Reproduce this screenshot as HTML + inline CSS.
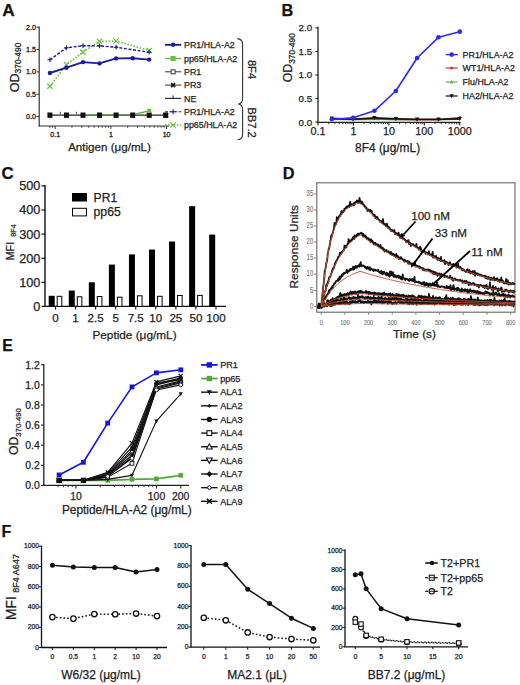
<!DOCTYPE html>
<html><head><meta charset="utf-8"><title>Figure</title>
<style>
html,body{margin:0;padding:0;background:#fff;}
body{width:520px;height:685px;overflow:hidden;font-family:"Liberation Sans",sans-serif;}
svg{display:block;}
svg text{font-family:"Liberation Sans",sans-serif;}
</style></head><body>
<svg width="520" height="685" viewBox="0 0 520 685" font-family="Liberation Sans, sans-serif">

<rect width="520" height="685" fill="#fff"/>
<text x="2.20" y="16.30" font-size="17.2" text-anchor="start" fill="#111" stroke="#111" stroke-width="0.25" font-weight="bold">A</text>
<line x1="39.20" y1="26.50" x2="39.20" y2="126.50" stroke="#333" stroke-width="1.2"/>
<line x1="38.70" y1="126.00" x2="169.00" y2="126.00" stroke="#333" stroke-width="1.2"/>
<line x1="36.40" y1="27.20" x2="39.20" y2="27.20" stroke="#333" stroke-width="1"/>
<text x="35.90" y="29.70" font-size="7.1" text-anchor="end" fill="#222" stroke="#222" stroke-width="0.3">2.0</text>
<line x1="36.40" y1="49.53" x2="39.20" y2="49.53" stroke="#333" stroke-width="1"/>
<text x="35.90" y="52.03" font-size="7.1" text-anchor="end" fill="#222" stroke="#222" stroke-width="0.3">1.5</text>
<line x1="36.40" y1="71.85" x2="39.20" y2="71.85" stroke="#333" stroke-width="1"/>
<text x="35.90" y="74.35" font-size="7.1" text-anchor="end" fill="#222" stroke="#222" stroke-width="0.3">1.0</text>
<line x1="36.40" y1="94.17" x2="39.20" y2="94.17" stroke="#333" stroke-width="1"/>
<text x="35.90" y="96.67" font-size="7.1" text-anchor="end" fill="#222" stroke="#222" stroke-width="0.3">0.5</text>
<line x1="36.40" y1="116.50" x2="39.20" y2="116.50" stroke="#333" stroke-width="1"/>
<text x="35.90" y="119.00" font-size="7.1" text-anchor="end" fill="#222" stroke="#222" stroke-width="0.3">0.0</text>
<line x1="49.80" y1="126.00" x2="49.80" y2="127.80" stroke="#333" stroke-width="0.9"/>
<line x1="52.65" y1="126.00" x2="52.65" y2="127.80" stroke="#333" stroke-width="0.9"/>
<line x1="71.97" y1="126.00" x2="71.97" y2="127.80" stroke="#333" stroke-width="0.9"/>
<line x1="81.78" y1="126.00" x2="81.78" y2="127.80" stroke="#333" stroke-width="0.9"/>
<line x1="88.73" y1="126.00" x2="88.73" y2="127.80" stroke="#333" stroke-width="0.9"/>
<line x1="94.13" y1="126.00" x2="94.13" y2="127.80" stroke="#333" stroke-width="0.9"/>
<line x1="98.54" y1="126.00" x2="98.54" y2="127.80" stroke="#333" stroke-width="0.9"/>
<line x1="102.27" y1="126.00" x2="102.27" y2="127.80" stroke="#333" stroke-width="0.9"/>
<line x1="105.50" y1="126.00" x2="105.50" y2="127.80" stroke="#333" stroke-width="0.9"/>
<line x1="108.35" y1="126.00" x2="108.35" y2="127.80" stroke="#333" stroke-width="0.9"/>
<line x1="127.67" y1="126.00" x2="127.67" y2="127.80" stroke="#333" stroke-width="0.9"/>
<line x1="137.48" y1="126.00" x2="137.48" y2="127.80" stroke="#333" stroke-width="0.9"/>
<line x1="144.43" y1="126.00" x2="144.43" y2="127.80" stroke="#333" stroke-width="0.9"/>
<line x1="149.83" y1="126.00" x2="149.83" y2="127.80" stroke="#333" stroke-width="0.9"/>
<line x1="154.24" y1="126.00" x2="154.24" y2="127.80" stroke="#333" stroke-width="0.9"/>
<line x1="157.97" y1="126.00" x2="157.97" y2="127.80" stroke="#333" stroke-width="0.9"/>
<line x1="161.20" y1="126.00" x2="161.20" y2="127.80" stroke="#333" stroke-width="0.9"/>
<line x1="164.05" y1="126.00" x2="164.05" y2="127.80" stroke="#333" stroke-width="0.9"/>
<line x1="55.20" y1="126.00" x2="55.20" y2="129.00" stroke="#333" stroke-width="1"/>
<text x="55.20" y="137.40" font-size="7.1" text-anchor="middle" fill="#222" stroke="#222" stroke-width="0.3">0.1</text>
<line x1="110.90" y1="126.00" x2="110.90" y2="129.00" stroke="#333" stroke-width="1"/>
<text x="110.90" y="137.40" font-size="7.1" text-anchor="middle" fill="#222" stroke="#222" stroke-width="0.3">1</text>
<line x1="166.60" y1="126.00" x2="166.60" y2="129.00" stroke="#333" stroke-width="1"/>
<text x="166.60" y="137.40" font-size="7.1" text-anchor="middle" fill="#222" stroke="#222" stroke-width="0.3">10</text>
<text x="109.50" y="151.20" font-size="11.6" text-anchor="middle" fill="#222" stroke="#222" stroke-width="0.25">Antigen (&#956;g/mL)</text>
<text transform="translate(18.7,92.3) rotate(-90)" font-size="12.6" fill="#222" stroke="#222" stroke-width="0.25">OD<tspan font-size="8.4" dy="2.6">370-490</tspan></text>
<line x1="49.90" y1="115.20" x2="165.75" y2="115.20" stroke="#222" stroke-width="1.3"/>
<polyline points="83.00,115.00 99.55,114.90 116.10,114.80 132.65,114.60 149.20,110.80" fill="none" stroke="#5aa835" stroke-width="1.2" stroke-linejoin="round"/>
<rect x="47.40" y="112.50" width="5.0" height="5.4" fill="#111"/>
<rect x="63.95" y="112.50" width="5.0" height="5.4" fill="#111"/>
<rect x="80.50" y="112.50" width="5.0" height="5.4" fill="#111"/>
<rect x="97.05" y="112.50" width="5.0" height="5.4" fill="#111"/>
<rect x="113.60" y="112.50" width="5.0" height="5.4" fill="#111"/>
<rect x="130.15" y="112.50" width="5.0" height="5.4" fill="#111"/>
<rect x="146.70" y="112.50" width="5.0" height="5.4" fill="#111"/>
<rect x="163.25" y="112.50" width="5.0" height="5.4" fill="#111"/>
<rect x="147.20" y="108.80" width="4.00" height="4.00" fill="#6cc040"/>
<path d="M163.55,113.00L167.95,117.40M163.55,117.40L167.95,113.00" stroke="#111" stroke-width="1.4"/>
<line x1="60.20" y1="111.80" x2="60.20" y2="114.00" stroke="#333" stroke-width="0.9"/>
<line x1="76.60" y1="111.80" x2="76.60" y2="114.00" stroke="#333" stroke-width="0.9"/>
<polyline points="49.90,86.30 66.45,64.70 83.00,52.10 99.55,41.40 116.10,41.00 149.20,50.50" fill="none" stroke="#6cc040" stroke-width="1.6" stroke-dasharray="1.6,1.6" stroke-linejoin="round"/>
<path d="M47.30,83.70L52.50,88.90M47.30,88.90L52.50,83.70" stroke="#6cc040" stroke-width="1.3"/>
<path d="M63.85,62.10L69.05,67.30M63.85,67.30L69.05,62.10" stroke="#6cc040" stroke-width="1.3"/>
<path d="M80.40,49.50L85.60,54.70M80.40,54.70L85.60,49.50" stroke="#6cc040" stroke-width="1.3"/>
<path d="M96.95,38.80L102.15,44.00M96.95,44.00L102.15,38.80" stroke="#6cc040" stroke-width="1.3"/>
<path d="M113.50,38.40L118.70,43.60M113.50,43.60L118.70,38.40" stroke="#6cc040" stroke-width="1.3"/>
<path d="M146.60,47.90L151.80,53.10M146.60,53.10L151.80,47.90" stroke="#6cc040" stroke-width="1.3"/>
<polyline points="49.90,73.00 66.45,67.70 83.00,62.10 99.55,63.40 116.10,58.40 132.65,58.30 149.20,59.60" fill="none" stroke="#1c1c9c" stroke-width="1.9" stroke-linejoin="round"/>
<circle cx="49.90" cy="73.00" r="2.2" fill="#1c1c9c"/>
<circle cx="66.45" cy="67.70" r="2.2" fill="#1c1c9c"/>
<circle cx="83.00" cy="62.10" r="2.2" fill="#1c1c9c"/>
<circle cx="99.55" cy="63.40" r="2.2" fill="#1c1c9c"/>
<circle cx="116.10" cy="58.40" r="2.2" fill="#1c1c9c"/>
<circle cx="132.65" cy="58.30" r="2.2" fill="#1c1c9c"/>
<circle cx="149.20" cy="59.60" r="2.2" fill="#1c1c9c"/>
<polyline points="49.90,59.80 66.45,47.80 83.00,45.70 99.55,45.90 116.10,47.20 149.20,52.20" fill="none" stroke="#1c1c9c" stroke-width="1.4" stroke-dasharray="3,1.6" stroke-linejoin="round"/>
<path d="M47.50,59.80L52.30,59.80M49.90,57.40L49.90,62.20" stroke="#1c1c9c" stroke-width="1.1"/>
<path d="M64.05,47.80L68.85,47.80M66.45,45.40L66.45,50.20" stroke="#1c1c9c" stroke-width="1.1"/>
<path d="M80.60,45.70L85.40,45.70M83.00,43.30L83.00,48.10" stroke="#1c1c9c" stroke-width="1.1"/>
<path d="M97.15,45.90L101.95,45.90M99.55,43.50L99.55,48.30" stroke="#1c1c9c" stroke-width="1.1"/>
<path d="M113.70,47.20L118.50,47.20M116.10,44.80L116.10,49.60" stroke="#1c1c9c" stroke-width="1.1"/>
<path d="M146.80,52.20L151.60,52.20M149.20,49.80L149.20,54.60" stroke="#1c1c9c" stroke-width="1.1"/>
<text x="184.00" y="48.00" font-size="8.9" text-anchor="start" fill="#222" stroke="#222" stroke-width="0.25">PR1/HLA-A2</text>
<text x="184.00" y="61.70" font-size="8.9" text-anchor="start" fill="#222" stroke="#222" stroke-width="0.25">pp65/HLA-A2</text>
<text x="184.00" y="75.00" font-size="8.9" text-anchor="start" fill="#222" stroke="#222" stroke-width="0.25">PR1</text>
<text x="184.00" y="88.30" font-size="8.9" text-anchor="start" fill="#222" stroke="#222" stroke-width="0.25">PR3</text>
<text x="184.00" y="101.60" font-size="8.9" text-anchor="start" fill="#222" stroke="#222" stroke-width="0.25">NE</text>
<text x="184.00" y="114.90" font-size="8.9" text-anchor="start" fill="#222" stroke="#222" stroke-width="0.25">PR1/HLA-A2</text>
<text x="184.00" y="128.20" font-size="8.9" text-anchor="start" fill="#222" stroke="#222" stroke-width="0.25">pp65/HLA-A2</text>
<line x1="165.00" y1="44.80" x2="181.20" y2="44.80" stroke="#1c1c9c" stroke-width="1.9"/>
<circle cx="173.10" cy="44.80" r="2.2" fill="#1c1c9c"/>
<line x1="165.00" y1="58.50" x2="181.20" y2="58.50" stroke="#6cc040" stroke-width="1.4"/>
<rect x="170.60" y="56.00" width="5.00" height="5.00" fill="#6cc040"/>
<line x1="165.00" y1="71.80" x2="181.20" y2="71.80" stroke="#333" stroke-width="1.0"/>
<rect x="171.10" y="69.80" width="4.00" height="4.00" fill="#fff" stroke="#222" stroke-width="0.9"/>
<line x1="165.00" y1="85.10" x2="181.20" y2="85.10" stroke="#333" stroke-width="1.0"/>
<path d="M171.10,83.10L175.10,87.10M171.10,87.10L175.10,83.10" stroke="#111" stroke-width="1.7"/>
<line x1="165.00" y1="98.40" x2="181.20" y2="98.40" stroke="#222" stroke-width="1.1"/>
<path d="M173.10,95.40L173.10,98.40" stroke="#222" stroke-width="1.0"/>
<line x1="165.00" y1="111.70" x2="181.20" y2="111.70" stroke="#1c1c9c" stroke-width="1.1" stroke-dasharray="3,1.5"/>
<path d="M170.60,111.70L175.60,111.70M173.10,109.20L173.10,114.20" stroke="#1c1c9c" stroke-width="1.1"/>
<line x1="165.00" y1="125.00" x2="181.20" y2="125.00" stroke="#6cc040" stroke-width="1.4" stroke-dasharray="1.5,1.5"/>
<path d="M170.50,122.40L175.70,127.60M170.50,127.60L175.70,122.40" stroke="#6cc040" stroke-width="1.3"/>
<path d="M237.3,38.6 Q242.6,38.8 242.6,44.5 L242.6,98.5 Q242.6,103.6 238.2,104.0 Q242.6,104.4 242.6,109.5 L242.6,134 Q242.6,139.4 237.6,139.6" fill="none" stroke="#333" stroke-width="1.1"/>
<text transform="translate(248.3,59.9) rotate(90)" font-size="11.2" fill="#222" stroke="#222" stroke-width="0.25">8F4</text>
<text transform="translate(248.0,107.3) rotate(90)" font-size="11.2" fill="#222" stroke="#222" stroke-width="0.25">BB7.2</text>
<text x="281.60" y="16.40" font-size="16.3" text-anchor="start" fill="#111" stroke="#111" stroke-width="0.25" font-weight="bold">B</text>
<line x1="318.00" y1="26.80" x2="318.00" y2="122.40" stroke="#222" stroke-width="1.3"/>
<line x1="317.40" y1="122.40" x2="460.60" y2="122.40" stroke="#222" stroke-width="1.3"/>
<line x1="315.40" y1="27.90" x2="318.00" y2="27.90" stroke="#222" stroke-width="1.1"/>
<text x="312.20" y="31.30" font-size="9.8" text-anchor="end" fill="#222" stroke="#222" stroke-width="0.25">2.0</text>
<line x1="315.40" y1="51.45" x2="318.00" y2="51.45" stroke="#222" stroke-width="1.1"/>
<text x="312.20" y="54.85" font-size="9.8" text-anchor="end" fill="#222" stroke="#222" stroke-width="0.25">1.5</text>
<line x1="315.40" y1="75.00" x2="318.00" y2="75.00" stroke="#222" stroke-width="1.1"/>
<text x="312.20" y="78.40" font-size="9.8" text-anchor="end" fill="#222" stroke="#222" stroke-width="0.25">1.0</text>
<line x1="315.40" y1="98.55" x2="318.00" y2="98.55" stroke="#222" stroke-width="1.1"/>
<text x="312.20" y="101.95" font-size="9.8" text-anchor="end" fill="#222" stroke="#222" stroke-width="0.25">0.5</text>
<line x1="315.40" y1="122.10" x2="318.00" y2="122.10" stroke="#222" stroke-width="1.1"/>
<text x="312.20" y="125.50" font-size="9.8" text-anchor="end" fill="#222" stroke="#222" stroke-width="0.25">0.0</text>
<line x1="328.67" y1="122.40" x2="328.67" y2="124.20" stroke="#222" stroke-width="0.9"/>
<line x1="334.91" y1="122.40" x2="334.91" y2="124.20" stroke="#222" stroke-width="0.9"/>
<line x1="339.34" y1="122.40" x2="339.34" y2="124.20" stroke="#222" stroke-width="0.9"/>
<line x1="342.78" y1="122.40" x2="342.78" y2="124.20" stroke="#222" stroke-width="0.9"/>
<line x1="345.59" y1="122.40" x2="345.59" y2="124.20" stroke="#222" stroke-width="0.9"/>
<line x1="347.96" y1="122.40" x2="347.96" y2="124.20" stroke="#222" stroke-width="0.9"/>
<line x1="350.01" y1="122.40" x2="350.01" y2="124.20" stroke="#222" stroke-width="0.9"/>
<line x1="351.83" y1="122.40" x2="351.83" y2="124.20" stroke="#222" stroke-width="0.9"/>
<line x1="364.12" y1="122.40" x2="364.12" y2="124.20" stroke="#222" stroke-width="0.9"/>
<line x1="370.36" y1="122.40" x2="370.36" y2="124.20" stroke="#222" stroke-width="0.9"/>
<line x1="374.79" y1="122.40" x2="374.79" y2="124.20" stroke="#222" stroke-width="0.9"/>
<line x1="378.23" y1="122.40" x2="378.23" y2="124.20" stroke="#222" stroke-width="0.9"/>
<line x1="381.04" y1="122.40" x2="381.04" y2="124.20" stroke="#222" stroke-width="0.9"/>
<line x1="383.41" y1="122.40" x2="383.41" y2="124.20" stroke="#222" stroke-width="0.9"/>
<line x1="385.46" y1="122.40" x2="385.46" y2="124.20" stroke="#222" stroke-width="0.9"/>
<line x1="387.28" y1="122.40" x2="387.28" y2="124.20" stroke="#222" stroke-width="0.9"/>
<line x1="399.57" y1="122.40" x2="399.57" y2="124.20" stroke="#222" stroke-width="0.9"/>
<line x1="405.81" y1="122.40" x2="405.81" y2="124.20" stroke="#222" stroke-width="0.9"/>
<line x1="410.24" y1="122.40" x2="410.24" y2="124.20" stroke="#222" stroke-width="0.9"/>
<line x1="413.68" y1="122.40" x2="413.68" y2="124.20" stroke="#222" stroke-width="0.9"/>
<line x1="416.49" y1="122.40" x2="416.49" y2="124.20" stroke="#222" stroke-width="0.9"/>
<line x1="418.86" y1="122.40" x2="418.86" y2="124.20" stroke="#222" stroke-width="0.9"/>
<line x1="420.91" y1="122.40" x2="420.91" y2="124.20" stroke="#222" stroke-width="0.9"/>
<line x1="422.73" y1="122.40" x2="422.73" y2="124.20" stroke="#222" stroke-width="0.9"/>
<line x1="435.02" y1="122.40" x2="435.02" y2="124.20" stroke="#222" stroke-width="0.9"/>
<line x1="441.26" y1="122.40" x2="441.26" y2="124.20" stroke="#222" stroke-width="0.9"/>
<line x1="445.69" y1="122.40" x2="445.69" y2="124.20" stroke="#222" stroke-width="0.9"/>
<line x1="449.13" y1="122.40" x2="449.13" y2="124.20" stroke="#222" stroke-width="0.9"/>
<line x1="451.94" y1="122.40" x2="451.94" y2="124.20" stroke="#222" stroke-width="0.9"/>
<line x1="454.31" y1="122.40" x2="454.31" y2="124.20" stroke="#222" stroke-width="0.9"/>
<line x1="456.36" y1="122.40" x2="456.36" y2="124.20" stroke="#222" stroke-width="0.9"/>
<line x1="458.18" y1="122.40" x2="458.18" y2="124.20" stroke="#222" stroke-width="0.9"/>
<line x1="318.00" y1="122.40" x2="318.00" y2="125.60" stroke="#222" stroke-width="1.1"/>
<text x="318.00" y="134.60" font-size="10.8" text-anchor="middle" fill="#222" stroke="#222" stroke-width="0.25">0.1</text>
<line x1="353.45" y1="122.40" x2="353.45" y2="125.60" stroke="#222" stroke-width="1.1"/>
<text x="353.45" y="134.60" font-size="10.8" text-anchor="middle" fill="#222" stroke="#222" stroke-width="0.25">1</text>
<line x1="388.90" y1="122.40" x2="388.90" y2="125.60" stroke="#222" stroke-width="1.1"/>
<text x="388.90" y="134.60" font-size="10.8" text-anchor="middle" fill="#222" stroke="#222" stroke-width="0.25">10</text>
<line x1="424.35" y1="122.40" x2="424.35" y2="125.60" stroke="#222" stroke-width="1.1"/>
<text x="424.35" y="134.60" font-size="10.8" text-anchor="middle" fill="#222" stroke="#222" stroke-width="0.25">100</text>
<line x1="459.80" y1="122.40" x2="459.80" y2="125.60" stroke="#222" stroke-width="1.1"/>
<text x="459.80" y="134.60" font-size="10.8" text-anchor="middle" fill="#222" stroke="#222" stroke-width="0.25">1000</text>
<text x="387.60" y="152.00" font-size="11.9" text-anchor="middle" fill="#222" stroke="#222" stroke-width="0.25">8F4 (&#956;g/mL)</text>
<text transform="translate(291.8,82.3) rotate(-90)" font-size="12.3" fill="#222" stroke="#222" stroke-width="0.25">OD<tspan font-size="8.4" dy="3.0">370-490</tspan></text>
<polyline points="331.74,119.27 353.08,119.74 374.43,119.27 395.77,119.74 417.11,119.74 438.46,119.74 459.80,119.27" fill="none" stroke="#5cb85c" stroke-width="1.3" stroke-linejoin="round"/>
<polyline points="331.74,118.80 353.08,119.27 374.43,118.80 395.77,119.27 417.11,119.74 438.46,119.74 459.80,117.39" fill="none" stroke="#d03030" stroke-width="1.3" stroke-linejoin="round"/>
<polyline points="331.74,118.33 353.08,119.27 374.43,117.86 395.77,118.80 417.11,119.27 438.46,119.27 459.80,118.80" fill="none" stroke="#111" stroke-width="1.7" stroke-linejoin="round"/>
<circle cx="331.74" cy="118.80" r="1.3" fill="#d03030"/>
<circle cx="353.08" cy="119.27" r="1.3" fill="#d03030"/>
<circle cx="374.43" cy="118.80" r="1.3" fill="#d03030"/>
<circle cx="395.77" cy="119.27" r="1.3" fill="#d03030"/>
<circle cx="417.11" cy="119.74" r="1.3" fill="#d03030"/>
<circle cx="438.46" cy="119.74" r="1.3" fill="#d03030"/>
<circle cx="459.80" cy="117.39" r="1.3" fill="#d03030"/>
<path d="M329.54,116.57L333.94,116.57L331.74,120.53Z" fill="#111"/>
<path d="M350.88,117.51L355.28,117.51L353.08,121.47Z" fill="#111"/>
<path d="M372.23,116.10L376.63,116.10L374.43,120.06Z" fill="#111"/>
<path d="M393.57,117.04L397.97,117.04L395.77,121.00Z" fill="#111"/>
<path d="M414.91,117.51L419.31,117.51L417.11,121.47Z" fill="#111"/>
<path d="M436.26,117.51L440.66,117.51L438.46,121.47Z" fill="#111"/>
<path d="M457.60,117.04L462.00,117.04L459.80,121.00Z" fill="#111"/>
<polyline points="331.74,119.27 353.08,117.86 374.43,110.80 395.77,91.01 417.11,58.04 438.46,37.32 459.80,31.67" fill="none" stroke="#2a2af0" stroke-width="1.6" stroke-linejoin="round"/>
<circle cx="331.74" cy="119.27" r="2.3" fill="#2a2af0"/>
<circle cx="353.08" cy="117.86" r="2.3" fill="#2a2af0"/>
<circle cx="374.43" cy="110.80" r="2.3" fill="#2a2af0"/>
<circle cx="395.77" cy="91.01" r="2.3" fill="#2a2af0"/>
<circle cx="417.11" cy="58.04" r="2.3" fill="#2a2af0"/>
<circle cx="438.46" cy="37.32" r="2.3" fill="#2a2af0"/>
<circle cx="459.80" cy="31.67" r="2.3" fill="#2a2af0"/>
<text x="462.60" y="57.80" font-size="8.9" text-anchor="start" fill="#222" stroke="#222" stroke-width="0.25">PR1/HLA-A2</text>
<text x="462.60" y="71.20" font-size="8.9" text-anchor="start" fill="#222" stroke="#222" stroke-width="0.25">WT1/HLA-A2</text>
<text x="462.60" y="85.20" font-size="8.9" text-anchor="start" fill="#222" stroke="#222" stroke-width="0.25">Flu/HLA-A2</text>
<text x="462.60" y="99.20" font-size="8.9" text-anchor="start" fill="#222" stroke="#222" stroke-width="0.25">HA2/HLA-A2</text>
<line x1="445.60" y1="54.60" x2="457.70" y2="54.60" stroke="#2a2af0" stroke-width="1.4"/>
<circle cx="451.65" cy="54.60" r="2.3" fill="#2a2af0"/>
<line x1="445.60" y1="68.00" x2="457.70" y2="68.00" stroke="#d03030" stroke-width="1.2"/>
<circle cx="451.65" cy="68.00" r="1.5" fill="#d03030"/>
<line x1="445.60" y1="82.00" x2="457.70" y2="82.00" stroke="#5cb85c" stroke-width="1.2"/>
<path d="M449.65,83.60L453.65,83.60L451.65,80.00Z" fill="#5cb85c"/>
<line x1="445.60" y1="96.00" x2="457.70" y2="96.00" stroke="#111" stroke-width="1.2"/>
<path d="M449.45,94.24L453.85,94.24L451.65,98.20Z" fill="#111"/>
<text x="1.50" y="179.40" font-size="16.8" text-anchor="start" fill="#111" stroke="#111" stroke-width="0.25" font-weight="bold">C</text>
<line x1="45.00" y1="185.00" x2="45.00" y2="306.40" stroke="#111" stroke-width="1.4"/>
<line x1="44.30" y1="306.40" x2="226.00" y2="306.40" stroke="#111" stroke-width="1.4"/>
<line x1="41.50" y1="306.40" x2="45.00" y2="306.40" stroke="#111" stroke-width="1.2"/>
<text x="40.40" y="310.80" font-size="12.7" text-anchor="end" fill="#222" stroke="#222" stroke-width="0.25">0</text>
<line x1="41.50" y1="282.30" x2="45.00" y2="282.30" stroke="#111" stroke-width="1.2"/>
<text x="40.40" y="286.70" font-size="12.7" text-anchor="end" fill="#222" stroke="#222" stroke-width="0.25">100</text>
<line x1="41.50" y1="258.20" x2="45.00" y2="258.20" stroke="#111" stroke-width="1.2"/>
<text x="40.40" y="262.60" font-size="12.7" text-anchor="end" fill="#222" stroke="#222" stroke-width="0.25">200</text>
<line x1="41.50" y1="234.10" x2="45.00" y2="234.10" stroke="#111" stroke-width="1.2"/>
<text x="40.40" y="238.50" font-size="12.7" text-anchor="end" fill="#222" stroke="#222" stroke-width="0.25">300</text>
<line x1="41.50" y1="210.00" x2="45.00" y2="210.00" stroke="#111" stroke-width="1.2"/>
<text x="40.40" y="214.40" font-size="12.7" text-anchor="end" fill="#222" stroke="#222" stroke-width="0.25">400</text>
<line x1="41.50" y1="185.90" x2="45.00" y2="185.90" stroke="#111" stroke-width="1.2"/>
<text x="40.40" y="190.30" font-size="12.7" text-anchor="end" fill="#222" stroke="#222" stroke-width="0.25">500</text>
<rect x="48.70" y="295.80" width="6.0" height="10.60" fill="#000"/>
<rect x="57.20" y="296.30" width="4.6" height="10.10" fill="#fff" stroke="#000" stroke-width="1"/>
<line x1="55.50" y1="306.40" x2="55.50" y2="309.60" stroke="#111" stroke-width="1.1"/>
<text x="55.50" y="322.40" font-size="11.6" text-anchor="middle" fill="#222" stroke="#222" stroke-width="0.25">0</text>
<rect x="68.76" y="290.60" width="6.0" height="15.80" fill="#000"/>
<rect x="77.26" y="296.80" width="4.6" height="9.60" fill="#fff" stroke="#000" stroke-width="1"/>
<line x1="75.56" y1="306.40" x2="75.56" y2="309.60" stroke="#111" stroke-width="1.1"/>
<text x="75.56" y="322.40" font-size="11.6" text-anchor="middle" fill="#222" stroke="#222" stroke-width="0.25">1</text>
<rect x="88.82" y="282.30" width="6.0" height="24.10" fill="#000"/>
<rect x="97.32" y="296.50" width="4.6" height="9.90" fill="#fff" stroke="#000" stroke-width="1"/>
<line x1="95.62" y1="306.40" x2="95.62" y2="309.60" stroke="#111" stroke-width="1.1"/>
<text x="95.62" y="322.40" font-size="11.6" text-anchor="middle" fill="#222" stroke="#222" stroke-width="0.25">2.5</text>
<rect x="108.88" y="264.60" width="6.0" height="41.80" fill="#000"/>
<rect x="117.38" y="297.20" width="4.6" height="9.20" fill="#fff" stroke="#000" stroke-width="1"/>
<line x1="115.68" y1="306.40" x2="115.68" y2="309.60" stroke="#111" stroke-width="1.1"/>
<text x="115.68" y="322.40" font-size="11.6" text-anchor="middle" fill="#222" stroke="#222" stroke-width="0.25">5</text>
<rect x="128.94" y="254.40" width="6.0" height="52.00" fill="#000"/>
<rect x="137.44" y="295.80" width="4.6" height="10.60" fill="#fff" stroke="#000" stroke-width="1"/>
<line x1="135.74" y1="306.40" x2="135.74" y2="309.60" stroke="#111" stroke-width="1.1"/>
<text x="135.74" y="322.40" font-size="11.6" text-anchor="middle" fill="#222" stroke="#222" stroke-width="0.25">7.5</text>
<rect x="149.00" y="249.60" width="6.0" height="56.80" fill="#000"/>
<rect x="157.50" y="296.30" width="4.6" height="10.10" fill="#fff" stroke="#000" stroke-width="1"/>
<line x1="155.80" y1="306.40" x2="155.80" y2="309.60" stroke="#111" stroke-width="1.1"/>
<text x="155.80" y="322.40" font-size="11.6" text-anchor="middle" fill="#222" stroke="#222" stroke-width="0.25">10</text>
<rect x="169.06" y="241.50" width="6.0" height="64.90" fill="#000"/>
<rect x="177.56" y="295.50" width="4.6" height="10.90" fill="#fff" stroke="#000" stroke-width="1"/>
<line x1="175.86" y1="306.40" x2="175.86" y2="309.60" stroke="#111" stroke-width="1.1"/>
<text x="175.86" y="322.40" font-size="11.6" text-anchor="middle" fill="#222" stroke="#222" stroke-width="0.25">25</text>
<rect x="189.12" y="206.20" width="6.0" height="100.20" fill="#000"/>
<rect x="197.62" y="295.40" width="4.6" height="11.00" fill="#fff" stroke="#000" stroke-width="1"/>
<line x1="195.92" y1="306.40" x2="195.92" y2="309.60" stroke="#111" stroke-width="1.1"/>
<text x="195.92" y="322.40" font-size="11.6" text-anchor="middle" fill="#222" stroke="#222" stroke-width="0.25">50</text>
<rect x="209.18" y="234.60" width="6.0" height="71.80" fill="#000"/>
<line x1="215.98" y1="306.40" x2="215.98" y2="309.60" stroke="#111" stroke-width="1.1"/>
<text x="215.98" y="322.40" font-size="11.6" text-anchor="middle" fill="#222" stroke="#222" stroke-width="0.25">100</text>
<text x="134.50" y="339.30" font-size="11.8" text-anchor="middle" fill="#222" stroke="#222" stroke-width="0.25">Peptide (&#956;g/mL)</text>
<text transform="translate(14.0,260.3) rotate(-90)" font-size="10.7" fill="#222" stroke="#222" stroke-width="0.25">MFI<tspan font-size="7.2" dx="5.2" dy="1.8">8F4</tspan></text>
<rect x="72" y="193" width="15" height="8.5" fill="#000"/>
<rect x="72.5" y="208.3" width="14" height="7.6" fill="#fff" stroke="#000" stroke-width="1"/>
<text x="93.60" y="201.60" font-size="12.2" text-anchor="start" fill="#222" stroke="#222" stroke-width="0.25">PR1</text>
<text x="93.60" y="216.20" font-size="12.2" text-anchor="start" fill="#222" stroke="#222" stroke-width="0.25">pp65</text>
<text x="282.80" y="178.70" font-size="16.3" text-anchor="start" fill="#111" stroke="#111" stroke-width="0.25" font-weight="bold">D</text>
<rect x="316.8" y="182.8" width="198.2" height="129.39999999999998" fill="none" stroke="#666" stroke-width="1.1"/>
<line x1="314.00" y1="306.40" x2="316.80" y2="306.40" stroke="#777" stroke-width="0.9"/>
<text x="313.20" y="308.60" font-size="8.4" text-anchor="end" fill="#777" stroke="#777" stroke-width="0.15" textLength="3.3" lengthAdjust="spacingAndGlyphs">0</text>
<line x1="314.00" y1="290.32" x2="316.80" y2="290.32" stroke="#777" stroke-width="0.9"/>
<text x="313.20" y="292.52" font-size="8.4" text-anchor="end" fill="#777" stroke="#777" stroke-width="0.15" textLength="3.3" lengthAdjust="spacingAndGlyphs">5</text>
<line x1="314.00" y1="274.24" x2="316.80" y2="274.24" stroke="#777" stroke-width="0.9"/>
<text x="313.20" y="276.44" font-size="8.4" text-anchor="end" fill="#777" stroke="#777" stroke-width="0.15" textLength="6.6" lengthAdjust="spacingAndGlyphs">10</text>
<line x1="314.00" y1="258.16" x2="316.80" y2="258.16" stroke="#777" stroke-width="0.9"/>
<text x="313.20" y="260.36" font-size="8.4" text-anchor="end" fill="#777" stroke="#777" stroke-width="0.15" textLength="6.6" lengthAdjust="spacingAndGlyphs">15</text>
<line x1="314.00" y1="242.08" x2="316.80" y2="242.08" stroke="#777" stroke-width="0.9"/>
<text x="313.20" y="244.28" font-size="8.4" text-anchor="end" fill="#777" stroke="#777" stroke-width="0.15" textLength="6.6" lengthAdjust="spacingAndGlyphs">20</text>
<line x1="314.00" y1="226.00" x2="316.80" y2="226.00" stroke="#777" stroke-width="0.9"/>
<text x="313.20" y="228.20" font-size="8.4" text-anchor="end" fill="#777" stroke="#777" stroke-width="0.15" textLength="6.6" lengthAdjust="spacingAndGlyphs">25</text>
<line x1="314.00" y1="209.92" x2="316.80" y2="209.92" stroke="#777" stroke-width="0.9"/>
<text x="313.20" y="212.12" font-size="8.4" text-anchor="end" fill="#777" stroke="#777" stroke-width="0.15" textLength="6.6" lengthAdjust="spacingAndGlyphs">30</text>
<line x1="314.00" y1="193.84" x2="316.80" y2="193.84" stroke="#777" stroke-width="0.9"/>
<text x="313.20" y="196.04" font-size="8.4" text-anchor="end" fill="#777" stroke="#777" stroke-width="0.15" textLength="6.6" lengthAdjust="spacingAndGlyphs">35</text>
<line x1="321.20" y1="312.20" x2="321.20" y2="314.70" stroke="#777" stroke-width="0.9"/>
<text x="321.20" y="324.90" font-size="7.4" text-anchor="middle" fill="#777" stroke="#777" stroke-width="0.15" textLength="3.1" lengthAdjust="spacingAndGlyphs">0</text>
<line x1="344.88" y1="312.20" x2="344.88" y2="314.70" stroke="#777" stroke-width="0.9"/>
<text x="344.88" y="324.90" font-size="7.4" text-anchor="middle" fill="#777" stroke="#777" stroke-width="0.15" textLength="9.3" lengthAdjust="spacingAndGlyphs">100</text>
<line x1="368.56" y1="312.20" x2="368.56" y2="314.70" stroke="#777" stroke-width="0.9"/>
<text x="368.56" y="324.90" font-size="7.4" text-anchor="middle" fill="#777" stroke="#777" stroke-width="0.15" textLength="9.3" lengthAdjust="spacingAndGlyphs">200</text>
<line x1="392.24" y1="312.20" x2="392.24" y2="314.70" stroke="#777" stroke-width="0.9"/>
<text x="392.24" y="324.90" font-size="7.4" text-anchor="middle" fill="#777" stroke="#777" stroke-width="0.15" textLength="9.3" lengthAdjust="spacingAndGlyphs">300</text>
<line x1="415.92" y1="312.20" x2="415.92" y2="314.70" stroke="#777" stroke-width="0.9"/>
<text x="415.92" y="324.90" font-size="7.4" text-anchor="middle" fill="#777" stroke="#777" stroke-width="0.15" textLength="9.3" lengthAdjust="spacingAndGlyphs">400</text>
<line x1="439.60" y1="312.20" x2="439.60" y2="314.70" stroke="#777" stroke-width="0.9"/>
<text x="439.60" y="324.90" font-size="7.4" text-anchor="middle" fill="#777" stroke="#777" stroke-width="0.15" textLength="9.3" lengthAdjust="spacingAndGlyphs">500</text>
<line x1="463.28" y1="312.20" x2="463.28" y2="314.70" stroke="#777" stroke-width="0.9"/>
<text x="463.28" y="324.90" font-size="7.4" text-anchor="middle" fill="#777" stroke="#777" stroke-width="0.15" textLength="9.3" lengthAdjust="spacingAndGlyphs">600</text>
<line x1="486.96" y1="312.20" x2="486.96" y2="314.70" stroke="#777" stroke-width="0.9"/>
<text x="486.96" y="324.90" font-size="7.4" text-anchor="middle" fill="#777" stroke="#777" stroke-width="0.15" textLength="9.3" lengthAdjust="spacingAndGlyphs">700</text>
<line x1="510.64" y1="312.20" x2="510.64" y2="314.70" stroke="#777" stroke-width="0.9"/>
<text x="510.64" y="324.90" font-size="7.4" text-anchor="middle" fill="#777" stroke="#777" stroke-width="0.15" textLength="9.3" lengthAdjust="spacingAndGlyphs">800</text>
<text x="414.50" y="338.20" font-size="11.8" text-anchor="middle" fill="#222" stroke="#222" stroke-width="0.25">Time (s)</text>
<text x="297.60" y="246.80" font-size="11.8" text-anchor="middle" fill="#222" stroke="#222" stroke-width="0.25" transform="rotate(-90 297.6 246.8)">Response Units</text>
<polyline points="317.88,306.60 318.26,306.01 318.64,303.36 319.02,306.07 319.40,307.69 319.78,305.74 320.16,307.09 320.54,306.76 320.92,306.16 321.29,305.07 321.67,301.87 322.05,298.12 322.43,294.21 322.81,291.04 323.19,286.56 323.57,284.74 323.95,280.51 324.33,278.01 324.70,270.92 325.08,270.89 325.46,268.43 325.84,266.77 326.22,262.78 326.60,262.93 326.98,260.49 327.36,258.73 327.74,253.78 328.11,252.43 328.49,250.15 328.87,248.21 329.25,248.31 329.63,245.49 330.01,244.30 330.39,240.40 330.77,239.96 331.15,235.52 331.52,237.74 331.90,234.91 332.28,234.40 332.66,233.20 333.04,232.32 333.42,230.01 333.80,229.21 334.18,226.59 334.56,222.80 334.93,225.65 335.31,225.10 335.69,223.41 336.07,224.07 336.45,222.12 336.83,217.22 337.21,221.02 337.59,220.00 337.97,219.11 338.34,218.38 338.72,216.88 339.10,217.20 339.48,215.80 339.86,215.12 340.24,216.19 340.62,213.84 341.00,213.78 341.38,211.23 341.75,213.72 342.13,212.16 342.51,211.35 342.89,212.17 343.27,212.07 343.65,210.50 344.03,210.97 344.41,208.93 344.79,209.45 345.16,208.63 345.54,208.27 345.92,207.12 346.30,208.06 346.68,206.50 347.06,207.50 347.44,206.76 347.82,207.19 348.20,206.50 348.57,205.39 348.95,207.39 349.33,206.53 349.71,205.61 350.09,201.79 350.47,204.61 350.85,204.04 351.23,205.89 351.61,204.89 351.98,204.11 352.36,204.97 352.74,204.59 353.12,204.32 353.50,205.39 353.88,203.16 354.26,204.99 354.64,203.80 355.02,202.48 355.39,202.61 355.77,202.04 356.15,201.60 356.53,202.14 356.91,200.52 357.29,201.84 357.67,201.48 358.05,202.10 358.42,200.31 358.80,202.54 359.18,202.45 359.56,197.83 359.94,201.26 360.32,203.11 360.70,201.21 361.08,203.49 361.46,203.32 361.83,201.57 362.21,202.80 362.59,202.59 362.97,203.76 363.35,204.82 363.73,204.76 364.11,205.06 364.49,205.78 364.87,206.81 365.24,206.71 365.62,207.20 366.00,208.45 366.38,207.51 366.76,208.98 367.14,209.44 367.52,211.01 367.90,209.94 368.28,209.33 368.65,210.11 369.03,210.01 369.41,210.95 369.79,210.64 370.17,211.73 370.55,209.96 370.93,210.56 371.31,211.98 371.69,211.16 372.06,212.50 372.44,213.57 372.82,214.04 373.20,214.43 373.58,215.92 373.96,214.70 374.34,215.53 374.72,214.99 375.10,216.86 375.47,217.99 375.85,216.91 376.23,217.70 376.61,218.64 376.99,216.74 377.37,217.34 377.75,218.64 378.13,218.91 378.51,219.40 378.88,219.82 379.26,219.98 379.64,220.77 380.02,221.74 380.40,220.75 380.78,220.88 381.16,221.09 381.54,221.32 381.92,221.98 382.29,223.39 382.67,222.94 383.05,219.11 383.43,223.74 383.81,224.39 384.19,223.94 384.57,223.85 384.95,224.02 385.33,224.16 385.70,226.17 386.08,224.79 386.46,225.98 386.84,223.61 387.22,225.26 387.60,225.83 387.98,227.77 388.36,226.50 388.74,227.84 389.11,226.96 389.49,227.56 389.87,229.23 390.25,229.06 390.63,230.49 391.01,230.87 391.39,230.01 391.77,231.05 392.15,230.14 392.52,230.97 392.90,230.49 393.28,231.46 393.66,231.43 394.04,231.55 394.42,230.07 394.80,233.95 395.18,232.98 395.56,232.80 395.93,233.36 396.31,234.44 396.69,233.34 397.07,233.96 397.45,234.12 397.83,235.16 398.21,233.59 398.59,232.57 398.97,234.88 399.34,236.37 399.72,235.42 400.10,237.73 400.48,237.81 400.86,237.08 401.24,234.71 401.62,237.19 402.00,238.11 402.38,238.50 402.75,238.01 403.13,238.31 403.51,238.85 403.89,239.08 404.27,238.62 404.65,240.12 405.03,239.85 405.41,239.89 405.78,241.17 406.16,242.08 406.54,241.02 406.92,241.52 407.30,240.65 407.68,241.68 408.06,242.34 408.44,240.23 408.82,243.25 409.19,244.17 409.57,242.63 409.95,242.84 410.33,243.57 410.71,246.18 411.09,243.76 411.47,244.20 411.85,244.21 412.23,244.43 412.60,244.20 412.98,245.07 413.36,244.35 413.74,245.15 414.12,245.50 414.50,246.00 414.88,245.85 415.26,246.29 415.64,246.91 416.01,246.29 416.39,243.97 416.77,246.70 417.15,247.33 417.53,247.78 417.91,248.39 418.29,247.78 418.67,247.98 419.05,249.81 419.42,249.14 419.80,248.39 420.18,246.67 420.56,249.21 420.94,248.01 421.32,251.46 421.70,250.36 422.08,251.17 422.46,250.59 422.83,252.29 423.21,251.68 423.59,251.52 423.97,250.51 424.35,250.32 424.73,252.41 425.11,252.08 425.49,253.67 425.87,252.25 426.24,252.31 426.62,252.54 427.00,252.53 427.38,253.92 427.76,254.38 428.14,254.31 428.52,253.93 428.90,251.26 429.28,254.52 429.65,254.95 430.03,254.37 430.41,254.76 430.79,254.48 431.17,254.28 431.55,255.87 431.93,254.76 432.31,256.22 432.69,251.85 433.06,257.54 433.44,255.80 433.82,255.68 434.20,256.75 434.58,257.66 434.96,256.56 435.34,256.71 435.72,257.03 436.10,255.81 436.47,258.71 436.85,257.27 437.23,258.95 437.61,259.76 437.99,257.86 438.37,259.64 438.75,259.16 439.13,258.29 439.51,259.18 439.88,260.41 440.26,260.36 440.64,260.98 441.02,256.81 441.40,260.89 441.78,260.47 442.16,261.04 442.54,260.79 442.92,261.25 443.29,261.22 443.67,261.63 444.05,261.57 444.43,260.12 444.81,263.90 445.19,263.99 445.57,262.13 445.95,261.74 446.33,262.28 446.70,262.57 447.08,263.30 447.46,262.46 447.84,263.26 448.22,264.11 448.60,265.05 448.98,264.21 449.36,264.45 449.74,262.14 450.11,262.74 450.49,263.37 450.87,264.61 451.25,264.72 451.63,265.11 452.01,266.00 452.39,264.60 452.77,265.95 453.14,266.05 453.52,263.85 453.90,265.95 454.28,265.80 454.66,265.11 455.04,265.08 455.42,265.07 455.80,265.65 456.18,264.79 456.55,267.55 456.93,267.31 457.31,267.17 457.69,265.67 458.07,263.65 458.45,267.16 458.83,267.46 459.21,266.93 459.59,268.32 459.96,267.62 460.34,266.89 460.72,268.46 461.10,268.61 461.48,268.45 461.86,269.46 462.24,270.50 462.62,269.02 463.00,270.30 463.37,269.43 463.75,269.76 464.13,269.83 464.51,270.64 464.89,270.90 465.27,271.10 465.65,270.86 466.03,271.95 466.41,270.39 466.78,269.73 467.16,269.52 467.54,269.16 467.92,271.57 468.30,272.35 468.68,272.39 469.06,270.51 469.44,270.13 469.82,272.81 470.19,271.18 470.57,273.27 470.95,271.97 471.33,272.18 471.71,271.92 472.09,272.57 472.47,271.88 472.85,271.00 473.23,274.25 473.60,272.64 473.98,273.07 474.36,272.31 474.74,271.00 475.12,275.79 475.50,273.43 475.88,273.09 476.26,274.15 476.64,273.64 477.01,273.10 477.39,273.75 477.77,275.16 478.15,274.21 478.53,274.61 478.91,274.32 479.29,274.93 479.67,274.29 480.05,275.66 480.42,274.82 480.80,275.10 481.18,274.89 481.56,275.31 481.94,276.23 482.32,275.71 482.70,275.71 483.08,276.44 483.46,275.88 483.83,275.82 484.21,276.09 484.59,276.30 484.97,275.74 485.35,277.99 485.73,276.19 486.11,276.45 486.49,276.41 486.87,278.49 487.24,278.03 487.62,277.38 488.00,278.86 488.38,278.20 488.76,276.89 489.14,278.40 489.52,278.54 489.90,279.02 490.28,279.91 490.65,277.96 491.03,278.41 491.41,277.78 491.79,279.09 492.17,279.96 492.55,279.05 492.93,278.78 493.31,278.04 493.69,279.44 494.06,277.05 494.44,280.54 494.82,279.02 495.20,278.81 495.58,280.14 495.96,278.98 496.34,279.03 496.72,279.80 497.10,278.23 497.47,280.93 497.85,280.27 498.23,280.14 498.61,281.09 498.99,279.46 499.37,280.78 499.75,281.89 500.13,280.52 500.50,279.73 500.88,280.68 501.26,277.36 501.64,281.48 502.02,281.13 502.40,281.32 502.78,280.54 503.16,282.54 503.54,282.66 503.91,283.38 504.29,283.29 504.67,282.38 505.05,282.19 505.43,281.90 505.81,283.32 506.19,278.84 506.57,283.57 506.95,282.49 507.32,282.48 507.70,280.15 508.08,283.70 508.46,284.68 508.84,282.98 509.22,283.35 509.60,283.90 509.98,282.75 510.36,284.36 510.73,283.12 511.11,284.29 511.49,283.77 511.87,284.17 512.25,283.34 512.63,282.82 513.01,283.80 513.39,283.69 513.77,284.25 514.14,283.46 514.52,285.01" fill="none" stroke="#111" stroke-width="1.8" stroke-linejoin="round" stroke-linejoin="miter"/>
<polyline points="317.88,306.62 318.26,306.88 318.64,306.31 319.02,306.21 319.40,305.80 319.78,307.62 320.16,306.74 320.54,305.66 320.92,306.02 321.29,305.91 321.67,303.68 322.05,302.83 322.43,301.70 322.81,299.72 323.19,297.29 323.57,296.99 323.95,295.53 324.33,294.15 324.70,291.63 325.08,291.16 325.46,291.11 325.84,289.87 326.22,284.82 326.60,286.62 326.98,285.76 327.36,282.95 327.74,283.62 328.11,281.05 328.49,281.40 328.87,278.73 329.25,277.21 329.63,277.88 330.01,276.80 330.39,276.74 330.77,274.88 331.15,273.75 331.52,273.70 331.90,270.84 332.28,271.41 332.66,269.10 333.04,268.09 333.42,269.23 333.80,267.61 334.18,267.64 334.56,264.84 334.93,263.19 335.31,264.12 335.69,262.70 336.07,260.84 336.45,260.54 336.83,259.82 337.21,260.41 337.59,258.56 337.97,257.27 338.34,257.52 338.72,256.78 339.10,256.20 339.48,256.08 339.86,252.69 340.24,253.87 340.62,253.59 341.00,253.92 341.38,252.53 341.75,251.72 342.13,252.81 342.51,251.33 342.89,250.86 343.27,250.12 343.65,250.36 344.03,250.10 344.41,245.75 344.79,248.09 345.16,245.71 345.54,247.55 345.92,247.46 346.30,247.42 346.68,245.46 347.06,245.29 347.44,244.28 347.82,243.43 348.20,243.45 348.57,239.15 348.95,242.22 349.33,240.37 349.71,240.29 350.09,240.33 350.47,240.57 350.85,241.37 351.23,240.43 351.61,240.80 351.98,239.14 352.36,238.62 352.74,239.48 353.12,236.93 353.50,238.37 353.88,238.25 354.26,239.02 354.64,235.36 355.02,236.63 355.39,236.69 355.77,235.99 356.15,236.60 356.53,235.33 356.91,234.61 357.29,234.53 357.67,233.62 358.05,235.25 358.42,234.86 358.80,233.65 359.18,234.72 359.56,233.58 359.94,233.54 360.32,233.25 360.70,233.40 361.08,233.13 361.46,232.65 361.83,233.34 362.21,234.54 362.59,234.22 362.97,236.55 363.35,233.97 363.73,235.12 364.11,236.14 364.49,236.30 364.87,235.57 365.24,235.40 365.62,236.07 366.00,237.26 366.38,236.82 366.76,238.83 367.14,238.28 367.52,238.09 367.90,238.14 368.28,238.21 368.65,239.90 369.03,239.03 369.41,239.70 369.79,240.78 370.17,239.78 370.55,242.22 370.93,239.14 371.31,241.61 371.69,241.69 372.06,240.58 372.44,240.61 372.82,242.43 373.20,242.28 373.58,242.82 373.96,244.63 374.34,243.65 374.72,242.84 375.10,243.89 375.47,243.06 375.85,244.45 376.23,244.15 376.61,244.41 376.99,244.11 377.37,244.68 377.75,245.06 378.13,244.51 378.51,246.13 378.88,245.62 379.26,245.68 379.64,246.58 380.02,247.37 380.40,244.88 380.78,246.78 381.16,248.19 381.54,247.39 381.92,247.70 382.29,248.98 382.67,247.59 383.05,248.84 383.43,250.25 383.81,248.86 384.19,249.64 384.57,251.64 384.95,249.86 385.33,250.71 385.70,250.81 386.08,251.32 386.46,250.16 386.84,251.85 387.22,251.23 387.60,251.74 387.98,251.83 388.36,251.38 388.74,251.43 389.11,253.15 389.49,252.90 389.87,253.68 390.25,253.07 390.63,254.30 391.01,251.88 391.39,254.41 391.77,253.24 392.15,255.03 392.52,253.84 392.90,254.12 393.28,254.06 393.66,253.93 394.04,255.79 394.42,254.91 394.80,254.94 395.18,256.39 395.56,256.64 395.93,257.23 396.31,253.84 396.69,255.92 397.07,257.54 397.45,256.99 397.83,255.97 398.21,256.95 398.59,257.16 398.97,259.09 399.34,258.06 399.72,257.97 400.10,258.92 400.48,257.08 400.86,257.65 401.24,257.29 401.62,258.46 402.00,259.20 402.38,259.16 402.75,259.31 403.13,260.36 403.51,259.91 403.89,259.37 404.27,261.68 404.65,260.37 405.03,260.06 405.41,260.98 405.78,261.28 406.16,261.07 406.54,261.18 406.92,261.00 407.30,261.10 407.68,260.95 408.06,263.50 408.44,261.79 408.82,263.87 409.19,261.29 409.57,263.22 409.95,262.88 410.33,263.57 410.71,262.92 411.09,264.48 411.47,263.77 411.85,264.47 412.23,264.31 412.60,264.69 412.98,263.34 413.36,264.62 413.74,264.43 414.12,265.03 414.50,264.27 414.88,261.74 415.26,264.91 415.64,266.50 416.01,265.10 416.39,266.19 416.77,266.37 417.15,265.97 417.53,266.28 417.91,265.85 418.29,266.50 418.67,266.94 419.05,267.55 419.42,266.46 419.80,268.44 420.18,266.89 420.56,267.43 420.94,267.76 421.32,268.24 421.70,268.13 422.08,267.89 422.46,268.47 422.83,269.97 423.21,269.50 423.59,268.42 423.97,269.38 424.35,270.46 424.73,269.83 425.11,269.58 425.49,269.72 425.87,269.33 426.24,270.69 426.62,270.09 427.00,269.53 427.38,269.52 427.76,269.88 428.14,269.58 428.52,270.25 428.90,270.45 429.28,270.62 429.65,270.02 430.03,271.60 430.41,271.08 430.79,270.51 431.17,271.09 431.55,272.31 431.93,271.79 432.31,273.38 432.69,273.56 433.06,271.09 433.44,272.30 433.82,271.67 434.20,274.26 434.58,273.17 434.96,272.64 435.34,274.20 435.72,272.27 436.10,272.96 436.47,274.69 436.85,273.37 437.23,273.32 437.61,275.91 437.99,273.41 438.37,274.26 438.75,274.44 439.13,274.74 439.51,273.52 439.88,275.49 440.26,276.13 440.64,275.67 441.02,275.41 441.40,273.60 441.78,275.69 442.16,275.41 442.54,275.89 442.92,274.91 443.29,276.14 443.67,275.51 444.05,276.04 444.43,276.95 444.81,275.63 445.19,276.12 445.57,276.28 445.95,276.73 446.33,276.50 446.70,276.81 447.08,276.08 447.46,277.45 447.84,277.15 448.22,277.41 448.60,277.92 448.98,278.03 449.36,277.47 449.74,277.84 450.11,275.52 450.49,277.96 450.87,277.59 451.25,277.65 451.63,279.17 452.01,279.27 452.39,277.57 452.77,278.93 453.14,280.77 453.52,280.33 453.90,279.53 454.28,278.93 454.66,278.54 455.04,278.37 455.42,278.66 455.80,279.97 456.18,279.47 456.55,279.74 456.93,280.01 457.31,280.01 457.69,280.38 458.07,280.74 458.45,280.32 458.83,279.88 459.21,280.28 459.59,280.35 459.96,280.17 460.34,279.89 460.72,280.97 461.10,280.69 461.48,281.09 461.86,281.39 462.24,280.41 462.62,282.74 463.00,282.10 463.37,282.12 463.75,281.33 464.13,282.34 464.51,280.77 464.89,282.85 465.27,282.45 465.65,283.03 466.03,282.31 466.41,280.93 466.78,282.51 467.16,282.54 467.54,282.52 467.92,282.22 468.30,283.23 468.68,285.05 469.06,284.25 469.44,282.43 469.82,282.97 470.19,283.11 470.57,282.99 470.95,284.84 471.33,284.63 471.71,284.04 472.09,284.07 472.47,283.61 472.85,283.17 473.23,284.74 473.60,283.10 473.98,283.58 474.36,284.13 474.74,284.99 475.12,284.93 475.50,284.42 475.88,284.78 476.26,284.61 476.64,284.58 477.01,286.02 477.39,285.35 477.77,285.22 478.15,285.87 478.53,285.06 478.91,287.55 479.29,285.46 479.67,285.53 480.05,285.14 480.42,284.70 480.80,285.01 481.18,285.61 481.56,285.74 481.94,285.72 482.32,286.08 482.70,286.83 483.08,286.08 483.46,287.24 483.83,285.49 484.21,286.14 484.59,288.13 484.97,285.82 485.35,286.89 485.73,286.08 486.11,287.72 486.49,284.69 486.87,286.72 487.24,287.66 487.62,288.90 488.00,287.22 488.38,288.84 488.76,288.28 489.14,287.27 489.52,288.04 489.90,282.28 490.28,286.47 490.65,287.50 491.03,287.69 491.41,288.37 491.79,289.67 492.17,288.26 492.55,288.45 492.93,285.98 493.31,288.10 493.69,287.93 494.06,287.93 494.44,288.99 494.82,288.69 495.20,288.32 495.58,286.85 495.96,288.92 496.34,288.68 496.72,289.11 497.10,289.02 497.47,289.98 497.85,291.28 498.23,291.12 498.61,288.37 498.99,289.37 499.37,289.52 499.75,289.99 500.13,289.25 500.50,289.51 500.88,289.92 501.26,287.39 501.64,288.03 502.02,292.07 502.40,291.42 502.78,290.29 503.16,290.93 503.54,290.91 503.91,291.01 504.29,291.59 504.67,290.23 505.05,289.65 505.43,290.98 505.81,289.95 506.19,289.42 506.57,290.60 506.95,290.98 507.32,290.54 507.70,290.45 508.08,291.32 508.46,290.96 508.84,292.49 509.22,291.00 509.60,291.81 509.98,291.38 510.36,291.06 510.73,290.47 511.11,291.74 511.49,291.03 511.87,291.36 512.25,290.89 512.63,292.41 513.01,291.52 513.39,291.57 513.77,292.56 514.14,290.76 514.52,292.23" fill="none" stroke="#111" stroke-width="1.8" stroke-linejoin="round" stroke-linejoin="miter"/>
<polyline points="317.88,306.37 318.26,307.15 318.64,305.38 319.02,306.23 319.40,308.00 319.78,306.13 320.16,307.01 320.54,307.51 320.92,306.24 321.29,307.50 321.67,305.06 322.05,304.29 322.43,303.88 322.81,303.72 323.19,300.64 323.57,301.29 323.95,298.20 324.33,299.67 324.70,298.39 325.08,299.05 325.46,296.64 325.84,297.90 326.22,296.90 326.60,295.66 326.98,294.66 327.36,294.66 327.74,294.30 328.11,293.05 328.49,292.58 328.87,290.48 329.25,292.55 329.63,289.93 330.01,289.69 330.39,289.54 330.77,288.47 331.15,289.07 331.52,287.44 331.90,287.50 332.28,286.21 332.66,287.95 333.04,285.77 333.42,285.51 333.80,284.77 334.18,283.60 334.56,283.09 334.93,283.57 335.31,282.91 335.69,282.18 336.07,281.15 336.45,280.96 336.83,280.83 337.21,280.95 337.59,280.38 337.97,279.11 338.34,280.94 338.72,278.87 339.10,278.85 339.48,276.64 339.86,279.54 340.24,278.71 340.62,277.60 341.00,276.10 341.38,276.58 341.75,275.87 342.13,274.07 342.51,275.98 342.89,274.50 343.27,274.12 343.65,273.67 344.03,272.65 344.41,273.76 344.79,273.39 345.16,272.74 345.54,272.52 345.92,272.57 346.30,271.81 346.68,269.93 347.06,272.04 347.44,272.83 347.82,272.01 348.20,270.50 348.57,270.87 348.95,271.27 349.33,270.81 349.71,270.28 350.09,269.03 350.47,269.57 350.85,270.28 351.23,268.68 351.61,269.50 351.98,269.19 352.36,269.19 352.74,269.62 353.12,266.55 353.50,267.89 353.88,269.66 354.26,267.05 354.64,268.75 355.02,266.32 355.39,267.52 355.77,266.04 356.15,267.64 356.53,266.14 356.91,267.79 357.29,266.06 357.67,266.39 358.05,266.05 358.42,265.44 358.80,266.28 359.18,266.77 359.56,264.16 359.94,265.88 360.32,265.81 360.70,262.14 361.08,265.16 361.46,265.64 361.83,266.09 362.21,265.49 362.59,265.57 362.97,265.91 363.35,265.52 363.73,265.70 364.11,265.94 364.49,266.97 364.87,267.63 365.24,266.49 365.62,266.96 366.00,267.72 366.38,268.80 366.76,267.19 367.14,267.12 367.52,268.56 367.90,267.03 368.28,267.62 368.65,268.76 369.03,268.94 369.41,269.90 369.79,267.05 370.17,269.99 370.55,268.49 370.93,269.22 371.31,268.79 371.69,269.50 372.06,269.53 372.44,269.49 372.82,270.31 373.20,269.40 373.58,271.01 373.96,270.12 374.34,269.72 374.72,269.70 375.10,269.70 375.47,270.64 375.85,270.43 376.23,270.53 376.61,270.30 376.99,270.57 377.37,270.78 377.75,270.79 378.13,269.78 378.51,271.69 378.88,271.23 379.26,271.74 379.64,272.49 380.02,272.40 380.40,272.55 380.78,273.34 381.16,270.89 381.54,272.44 381.92,273.74 382.29,273.93 382.67,274.40 383.05,271.74 383.43,273.51 383.81,272.54 384.19,271.83 384.57,272.91 384.95,272.97 385.33,274.11 385.70,274.60 386.08,273.48 386.46,275.38 386.84,272.73 387.22,275.15 387.60,273.46 387.98,273.51 388.36,275.65 388.74,275.48 389.11,275.66 389.49,276.70 389.87,271.71 390.25,275.63 390.63,274.37 391.01,271.38 391.39,274.94 391.77,275.12 392.15,275.30 392.52,274.34 392.90,272.05 393.28,275.64 393.66,276.85 394.04,277.01 394.42,275.98 394.80,274.78 395.18,276.12 395.56,276.54 395.93,276.84 396.31,277.54 396.69,276.39 397.07,275.74 397.45,276.83 397.83,276.56 398.21,275.59 398.59,277.88 398.97,275.89 399.34,277.40 399.72,277.06 400.10,276.79 400.48,278.84 400.86,276.62 401.24,277.26 401.62,277.02 402.00,279.63 402.38,278.10 402.75,274.40 403.13,277.94 403.51,277.78 403.89,278.80 404.27,278.71 404.65,278.79 405.03,278.33 405.41,280.26 405.78,278.55 406.16,278.97 406.54,279.20 406.92,278.89 407.30,279.18 407.68,279.27 408.06,279.99 408.44,279.71 408.82,280.48 409.19,281.08 409.57,279.03 409.95,278.87 410.33,280.17 410.71,279.60 411.09,280.12 411.47,279.64 411.85,280.52 412.23,278.94 412.60,280.28 412.98,281.18 413.36,279.78 413.74,281.27 414.12,280.09 414.50,276.75 414.88,282.67 415.26,281.91 415.64,281.27 416.01,281.46 416.39,281.67 416.77,281.92 417.15,282.15 417.53,282.35 417.91,282.21 418.29,281.82 418.67,282.62 419.05,281.77 419.42,282.33 419.80,282.51 420.18,283.35 420.56,282.70 420.94,282.82 421.32,284.12 421.70,283.47 422.08,284.28 422.46,284.12 422.83,282.64 423.21,282.46 423.59,282.77 423.97,282.03 424.35,285.51 424.73,282.92 425.11,283.48 425.49,283.38 425.87,285.31 426.24,284.21 426.62,282.86 427.00,285.04 427.38,284.23 427.76,284.84 428.14,286.05 428.52,283.65 428.90,284.27 429.28,284.86 429.65,285.57 430.03,283.38 430.41,284.42 430.79,285.65 431.17,285.39 431.55,284.73 431.93,284.87 432.31,283.84 432.69,285.29 433.06,285.40 433.44,284.47 433.82,284.65 434.20,285.65 434.58,284.58 434.96,285.29 435.34,285.20 435.72,285.90 436.10,285.50 436.47,285.52 436.85,282.16 437.23,285.65 437.61,286.81 437.99,285.14 438.37,286.51 438.75,286.27 439.13,286.23 439.51,286.90 439.88,286.97 440.26,287.17 440.64,286.54 441.02,286.44 441.40,286.37 441.78,286.55 442.16,286.61 442.54,286.70 442.92,286.47 443.29,286.79 443.67,286.86 444.05,287.45 444.43,286.88 444.81,287.69 445.19,287.39 445.57,287.73 445.95,287.74 446.33,287.26 446.70,285.84 447.08,288.44 447.46,287.66 447.84,286.91 448.22,286.68 448.60,288.36 448.98,287.85 449.36,287.04 449.74,288.52 450.11,288.03 450.49,285.21 450.87,287.64 451.25,290.25 451.63,288.58 452.01,288.24 452.39,289.01 452.77,288.97 453.14,286.01 453.52,285.19 453.90,287.57 454.28,289.99 454.66,289.39 455.04,288.74 455.42,288.71 455.80,289.06 456.18,288.70 456.55,290.03 456.93,290.59 457.31,287.72 457.69,288.86 458.07,287.93 458.45,289.84 458.83,290.10 459.21,290.39 459.59,289.17 459.96,291.32 460.34,290.25 460.72,290.07 461.10,291.07 461.48,290.15 461.86,288.36 462.24,291.31 462.62,290.44 463.00,290.59 463.37,289.75 463.75,290.45 464.13,290.44 464.51,291.15 464.89,289.22 465.27,289.94 465.65,289.69 466.03,290.16 466.41,291.14 466.78,290.57 467.16,292.15 467.54,289.41 467.92,291.47 468.30,292.89 468.68,290.56 469.06,292.01 469.44,290.17 469.82,291.08 470.19,289.22 470.57,290.22 470.95,291.18 471.33,291.39 471.71,291.91 472.09,290.68 472.47,291.23 472.85,291.48 473.23,291.75 473.60,290.33 473.98,290.85 474.36,292.22 474.74,291.95 475.12,292.44 475.50,291.50 475.88,290.86 476.26,292.55 476.64,292.94 477.01,292.52 477.39,292.61 477.77,291.02 478.15,292.04 478.53,293.58 478.91,293.48 479.29,292.12 479.67,292.02 480.05,292.34 480.42,293.21 480.80,292.41 481.18,292.54 481.56,293.21 481.94,292.64 482.32,293.01 482.70,293.78 483.08,293.49 483.46,292.89 483.83,293.30 484.21,294.33 484.59,293.35 484.97,293.38 485.35,291.50 485.73,293.42 486.11,292.10 486.49,292.78 486.87,291.71 487.24,292.30 487.62,293.22 488.00,293.31 488.38,292.93 488.76,292.41 489.14,293.25 489.52,293.74 489.90,295.62 490.28,293.43 490.65,293.84 491.03,294.25 491.41,294.19 491.79,293.43 492.17,293.56 492.55,294.55 492.93,295.31 493.31,290.05 493.69,295.44 494.06,295.21 494.44,294.30 494.82,293.53 495.20,294.07 495.58,292.68 495.96,294.33 496.34,292.70 496.72,294.25 497.10,295.06 497.47,295.23 497.85,294.77 498.23,294.33 498.61,294.97 498.99,293.23 499.37,294.29 499.75,294.48 500.13,296.36 500.50,294.96 500.88,294.76 501.26,294.98 501.64,295.51 502.02,295.44 502.40,294.06 502.78,295.70 503.16,293.70 503.54,296.07 503.91,295.33 504.29,295.74 504.67,294.75 505.05,294.34 505.43,295.16 505.81,296.83 506.19,295.67 506.57,295.32 506.95,296.05 507.32,296.01 507.70,297.33 508.08,295.27 508.46,294.78 508.84,294.73 509.22,295.75 509.60,295.70 509.98,297.38 510.36,297.51 510.73,295.92 511.11,296.33 511.49,296.13 511.87,296.04 512.25,295.42 512.63,295.37 513.01,296.09 513.39,296.63 513.77,296.23 514.14,296.45 514.52,297.52" fill="none" stroke="#111" stroke-width="1.8" stroke-linejoin="round" stroke-linejoin="miter"/>
<polyline points="317.88,306.17 318.26,306.52 318.64,306.06 319.02,307.51 319.40,307.08 319.78,305.27 320.16,306.88 320.54,306.84 320.92,306.77 321.29,305.49 321.67,307.90 322.05,305.61 322.43,305.35 322.81,304.96 323.19,305.60 323.57,304.37 323.95,304.52 324.33,304.22 324.70,303.25 325.08,304.07 325.46,303.63 325.84,305.09 326.22,303.96 326.60,303.37 326.98,302.36 327.36,300.16 327.74,302.98 328.11,301.75 328.49,300.66 328.87,301.92 329.25,301.10 329.63,301.62 330.01,301.44 330.39,300.79 330.77,299.95 331.15,300.19 331.52,299.51 331.90,299.67 332.28,301.36 332.66,300.08 333.04,299.37 333.42,300.71 333.80,299.91 334.18,300.06 334.56,298.96 334.93,299.57 335.31,299.31 335.69,300.00 336.07,298.06 336.45,297.33 336.83,297.56 337.21,297.20 337.59,297.54 337.97,297.49 338.34,296.40 338.72,297.74 339.10,296.05 339.48,297.27 339.86,295.24 340.24,293.00 340.62,297.36 341.00,295.66 341.38,294.42 341.75,296.50 342.13,294.76 342.51,296.55 342.89,296.20 343.27,294.36 343.65,296.05 344.03,295.28 344.41,294.44 344.79,294.05 345.16,294.70 345.54,295.03 345.92,294.22 346.30,295.30 346.68,293.86 347.06,293.98 347.44,295.59 347.82,293.05 348.20,293.75 348.57,295.34 348.95,294.42 349.33,293.88 349.71,292.90 350.09,293.85 350.47,291.35 350.85,292.19 351.23,293.37 351.61,293.58 351.98,294.36 352.36,291.80 352.74,292.86 353.12,292.30 353.50,292.94 353.88,293.57 354.26,291.62 354.64,293.09 355.02,291.39 355.39,291.73 355.77,294.05 356.15,292.25 356.53,293.26 356.91,292.72 357.29,292.47 357.67,291.59 358.05,291.71 358.42,292.69 358.80,291.40 359.18,290.88 359.56,291.58 359.94,291.53 360.32,293.16 360.70,290.54 361.08,292.69 361.46,291.26 361.83,292.01 362.21,292.11 362.59,291.60 362.97,293.22 363.35,292.29 363.73,292.37 364.11,292.46 364.49,292.45 364.87,291.93 365.24,292.45 365.62,292.71 366.00,291.00 366.38,292.71 366.76,292.93 367.14,292.76 367.52,292.31 367.90,291.71 368.28,292.87 368.65,293.92 369.03,291.63 369.41,294.13 369.79,293.72 370.17,293.01 370.55,292.57 370.93,293.09 371.31,293.73 371.69,293.73 372.06,292.78 372.44,294.15 372.82,293.05 373.20,292.75 373.58,293.05 373.96,295.24 374.34,293.61 374.72,292.49 375.10,294.20 375.47,292.95 375.85,294.54 376.23,293.85 376.61,293.40 376.99,294.14 377.37,294.50 377.75,293.69 378.13,293.09 378.51,294.21 378.88,293.41 379.26,294.38 379.64,293.82 380.02,293.31 380.40,293.55 380.78,293.89 381.16,294.76 381.54,294.60 381.92,294.19 382.29,293.10 382.67,293.97 383.05,295.42 383.43,295.00 383.81,294.78 384.19,292.35 384.57,293.77 384.95,295.35 385.33,294.61 385.70,293.81 386.08,293.96 386.46,294.69 386.84,293.62 387.22,294.95 387.60,295.47 387.98,294.74 388.36,295.00 388.74,293.98 389.11,295.53 389.49,295.08 389.87,294.98 390.25,293.26 390.63,295.42 391.01,296.47 391.39,295.54 391.77,294.65 392.15,295.06 392.52,293.88 392.90,295.30 393.28,295.02 393.66,296.30 394.04,297.13 394.42,295.04 394.80,296.64 395.18,295.85 395.56,297.09 395.93,296.35 396.31,293.64 396.69,295.18 397.07,296.18 397.45,295.55 397.83,296.43 398.21,294.19 398.59,296.09 398.97,296.70 399.34,294.88 399.72,294.71 400.10,295.74 400.48,295.44 400.86,296.25 401.24,296.49 401.62,295.03 402.00,296.35 402.38,295.33 402.75,296.02 403.13,294.62 403.51,295.77 403.89,297.55 404.27,295.52 404.65,296.01 405.03,297.02 405.41,296.55 405.78,298.62 406.16,295.50 406.54,296.14 406.92,296.26 407.30,296.75 407.68,297.39 408.06,297.60 408.44,295.46 408.82,297.34 409.19,297.28 409.57,295.81 409.95,295.94 410.33,297.14 410.71,296.06 411.09,297.37 411.47,297.78 411.85,298.24 412.23,295.05 412.60,295.76 412.98,297.21 413.36,296.43 413.74,295.99 414.12,297.36 414.50,297.34 414.88,298.13 415.26,296.98 415.64,298.12 416.01,298.05 416.39,298.35 416.77,297.73 417.15,297.44 417.53,297.56 417.91,297.37 418.29,297.92 418.67,295.73 419.05,297.21 419.42,297.06 419.80,295.99 420.18,297.18 420.56,297.36 420.94,297.82 421.32,295.83 421.70,297.38 422.08,298.19 422.46,296.14 422.83,296.68 423.21,297.94 423.59,298.51 423.97,297.97 424.35,296.49 424.73,297.68 425.11,297.26 425.49,296.55 425.87,297.64 426.24,298.60 426.62,296.88 427.00,297.17 427.38,298.38 427.76,298.83 428.14,296.88 428.52,298.76 428.90,293.88 429.28,298.12 429.65,296.65 430.03,298.02 430.41,298.79 430.79,299.25 431.17,297.76 431.55,298.67 431.93,298.28 432.31,297.87 432.69,297.38 433.06,295.87 433.44,298.39 433.82,298.27 434.20,299.40 434.58,298.51 434.96,299.00 435.34,297.46 435.72,298.06 436.10,297.34 436.47,297.67 436.85,298.58 437.23,298.27 437.61,299.56 437.99,297.66 438.37,298.84 438.75,298.37 439.13,297.45 439.51,298.44 439.88,297.08 440.26,297.96 440.64,298.38 441.02,299.60 441.40,299.38 441.78,299.71 442.16,298.69 442.54,299.16 442.92,299.71 443.29,299.75 443.67,299.28 444.05,300.22 444.43,298.21 444.81,298.94 445.19,299.38 445.57,299.66 445.95,298.19 446.33,295.11 446.70,299.50 447.08,298.83 447.46,299.86 447.84,299.33 448.22,298.59 448.60,299.41 448.98,299.36 449.36,298.95 449.74,300.56 450.11,298.88 450.49,297.86 450.87,300.03 451.25,301.04 451.63,298.86 452.01,299.14 452.39,297.69 452.77,297.72 453.14,298.91 453.52,299.12 453.90,299.30 454.28,299.60 454.66,299.04 455.04,298.89 455.42,299.92 455.80,300.03 456.18,300.66 456.55,300.30 456.93,299.49 457.31,298.57 457.69,299.07 458.07,301.03 458.45,299.85 458.83,298.22 459.21,300.05 459.59,300.27 459.96,300.23 460.34,298.56 460.72,299.20 461.10,301.14 461.48,299.69 461.86,300.69 462.24,300.96 462.62,300.70 463.00,299.71 463.37,300.91 463.75,300.48 464.13,299.25 464.51,300.17 464.89,298.79 465.27,300.72 465.65,300.47 466.03,299.52 466.41,300.01 466.78,299.85 467.16,299.57 467.54,299.27 467.92,300.50 468.30,299.74 468.68,298.81 469.06,300.23 469.44,300.38 469.82,300.22 470.19,300.39 470.57,299.79 470.95,296.22 471.33,299.41 471.71,301.83 472.09,300.93 472.47,300.08 472.85,299.41 473.23,299.31 473.60,301.24 473.98,300.03 474.36,300.19 474.74,299.39 475.12,301.16 475.50,299.83 475.88,299.99 476.26,300.40 476.64,300.41 477.01,302.02 477.39,300.29 477.77,297.67 478.15,300.39 478.53,302.08 478.91,300.04 479.29,301.60 479.67,300.81 480.05,300.35 480.42,300.89 480.80,302.20 481.18,300.23 481.56,301.04 481.94,301.01 482.32,301.69 482.70,301.18 483.08,300.67 483.46,302.00 483.83,301.02 484.21,301.28 484.59,300.31 484.97,302.53 485.35,301.02 485.73,302.18 486.11,300.27 486.49,301.66 486.87,301.45 487.24,303.19 487.62,299.94 488.00,303.00 488.38,301.17 488.76,301.43 489.14,301.08 489.52,300.08 489.90,300.00 490.28,301.68 490.65,302.11 491.03,300.19 491.41,300.74 491.79,301.29 492.17,302.15 492.55,300.81 492.93,300.97 493.31,300.93 493.69,301.87 494.06,301.47 494.44,297.55 494.82,302.00 495.20,301.36 495.58,302.84 495.96,300.65 496.34,303.05 496.72,302.12 497.10,301.83 497.47,301.15 497.85,301.97 498.23,301.55 498.61,302.29 498.99,301.46 499.37,302.08 499.75,300.52 500.13,301.11 500.50,302.51 500.88,301.21 501.26,301.66 501.64,300.39 502.02,301.23 502.40,301.23 502.78,302.07 503.16,301.24 503.54,300.20 503.91,302.69 504.29,301.86 504.67,301.50 505.05,300.99 505.43,301.94 505.81,301.11 506.19,301.14 506.57,302.56 506.95,302.00 507.32,301.17 507.70,302.36 508.08,301.42 508.46,302.57 508.84,303.03 509.22,300.99 509.60,301.58 509.98,300.74 510.36,302.63 510.73,301.51 511.11,302.33 511.49,301.82 511.87,301.32 512.25,302.21 512.63,302.95 513.01,302.67 513.39,304.19 513.77,301.46 514.14,302.95 514.52,301.09" fill="none" stroke="#111" stroke-width="1.8" stroke-linejoin="round" stroke-linejoin="miter"/>
<polyline points="317.88,307.33 318.26,306.62 318.64,307.66 319.02,305.22 319.40,306.71 319.78,303.60 320.16,306.84 320.54,306.84 320.92,306.06 321.29,307.13 321.67,306.62 322.05,306.64 322.43,306.91 322.81,305.89 323.19,304.67 323.57,305.27 323.95,305.05 324.33,303.82 324.70,306.14 325.08,305.34 325.46,304.43 325.84,304.55 326.22,303.92 326.60,302.82 326.98,303.92 327.36,304.38 327.74,303.61 328.11,304.67 328.49,304.46 328.87,303.54 329.25,302.60 329.63,302.66 330.01,301.98 330.39,301.95 330.77,302.90 331.15,300.99 331.52,303.01 331.90,300.76 332.28,302.46 332.66,298.06 333.04,302.06 333.42,301.79 333.80,302.06 334.18,301.41 334.56,301.92 334.93,300.61 335.31,301.14 335.69,302.26 336.07,301.48 336.45,298.21 336.83,300.94 337.21,299.97 337.59,300.45 337.97,299.73 338.34,300.06 338.72,300.41 339.10,300.39 339.48,300.74 339.86,300.24 340.24,301.11 340.62,301.28 341.00,298.42 341.38,298.90 341.75,298.92 342.13,299.51 342.51,299.88 342.89,300.80 343.27,298.96 343.65,300.96 344.03,296.88 344.41,298.09 344.79,298.64 345.16,299.00 345.54,299.33 345.92,298.44 346.30,299.50 346.68,298.51 347.06,299.28 347.44,298.83 347.82,298.46 348.20,298.29 348.57,297.79 348.95,297.19 349.33,297.49 349.71,299.49 350.09,298.51 350.47,297.92 350.85,299.01 351.23,299.86 351.61,299.03 351.98,297.61 352.36,298.17 352.74,297.42 353.12,298.57 353.50,298.50 353.88,296.88 354.26,297.66 354.64,297.35 355.02,297.84 355.39,297.53 355.77,298.83 356.15,297.90 356.53,299.06 356.91,297.67 357.29,298.58 357.67,297.24 358.05,294.08 358.42,297.63 358.80,298.15 359.18,297.90 359.56,297.65 359.94,296.58 360.32,297.36 360.70,296.83 361.08,297.30 361.46,296.09 361.83,296.27 362.21,297.63 362.59,296.26 362.97,296.97 363.35,297.84 363.73,297.84 364.11,297.67 364.49,298.04 364.87,298.98 365.24,297.17 365.62,297.06 366.00,297.94 366.38,297.13 366.76,298.32 367.14,298.17 367.52,296.82 367.90,298.06 368.28,296.54 368.65,297.64 369.03,297.48 369.41,297.89 369.79,298.74 370.17,299.53 370.55,297.21 370.93,298.47 371.31,297.63 371.69,298.98 372.06,297.85 372.44,298.16 372.82,298.14 373.20,297.81 373.58,296.78 373.96,298.32 374.34,297.51 374.72,298.45 375.10,298.57 375.47,297.83 375.85,299.22 376.23,298.44 376.61,298.14 376.99,298.77 377.37,298.97 377.75,297.66 378.13,300.43 378.51,296.53 378.88,297.30 379.26,300.12 379.64,297.80 380.02,299.00 380.40,298.57 380.78,299.43 381.16,298.66 381.54,295.43 381.92,298.24 382.29,298.56 382.67,299.06 383.05,299.21 383.43,299.96 383.81,298.41 384.19,298.39 384.57,299.50 384.95,299.03 385.33,297.65 385.70,300.13 386.08,298.40 386.46,298.46 386.84,299.22 387.22,298.98 387.60,299.09 387.98,298.54 388.36,298.12 388.74,297.77 389.11,300.26 389.49,299.11 389.87,298.19 390.25,300.04 390.63,298.86 391.01,299.71 391.39,298.75 391.77,300.00 392.15,297.68 392.52,298.23 392.90,298.76 393.28,298.83 393.66,299.13 394.04,299.67 394.42,298.21 394.80,300.02 395.18,299.05 395.56,300.45 395.93,300.37 396.31,298.14 396.69,297.47 397.07,299.73 397.45,299.14 397.83,299.77 398.21,298.32 398.59,299.49 398.97,299.73 399.34,298.94 399.72,300.28 400.10,299.82 400.48,298.34 400.86,299.89 401.24,299.00 401.62,299.01 402.00,299.58 402.38,299.46 402.75,300.10 403.13,300.54 403.51,299.87 403.89,300.54 404.27,300.08 404.65,300.06 405.03,300.22 405.41,299.73 405.78,299.06 406.16,299.77 406.54,300.70 406.92,298.39 407.30,301.07 407.68,300.63 408.06,299.55 408.44,300.04 408.82,299.92 409.19,299.75 409.57,301.54 409.95,300.81 410.33,299.18 410.71,299.90 411.09,299.91 411.47,298.82 411.85,300.28 412.23,300.74 412.60,301.40 412.98,299.74 413.36,302.27 413.74,300.38 414.12,301.54 414.50,298.16 414.88,300.56 415.26,300.39 415.64,299.92 416.01,300.67 416.39,300.29 416.77,298.85 417.15,300.24 417.53,301.33 417.91,302.15 418.29,301.45 418.67,300.19 419.05,299.53 419.42,299.95 419.80,299.71 420.18,299.52 420.56,299.76 420.94,300.78 421.32,301.09 421.70,301.61 422.08,300.27 422.46,302.05 422.83,301.01 423.21,301.38 423.59,301.45 423.97,299.78 424.35,300.87 424.73,300.29 425.11,300.62 425.49,298.67 425.87,298.94 426.24,299.70 426.62,300.49 427.00,299.96 427.38,300.86 427.76,300.11 428.14,300.69 428.52,301.04 428.90,299.73 429.28,301.55 429.65,300.89 430.03,300.89 430.41,301.99 430.79,301.26 431.17,301.31 431.55,301.22 431.93,300.25 432.31,300.06 432.69,300.86 433.06,299.82 433.44,301.29 433.82,301.48 434.20,300.99 434.58,300.16 434.96,301.05 435.34,300.71 435.72,302.74 436.10,301.32 436.47,300.39 436.85,300.13 437.23,301.06 437.61,302.15 437.99,300.41 438.37,301.17 438.75,302.11 439.13,301.26 439.51,300.76 439.88,300.80 440.26,299.97 440.64,301.65 441.02,300.81 441.40,300.91 441.78,300.67 442.16,302.90 442.54,301.04 442.92,301.27 443.29,301.24 443.67,301.08 444.05,300.17 444.43,301.34 444.81,300.56 445.19,301.69 445.57,297.02 445.95,299.95 446.33,302.26 446.70,300.98 447.08,300.02 447.46,300.90 447.84,300.96 448.22,298.03 448.60,301.24 448.98,300.28 449.36,300.86 449.74,300.87 450.11,302.82 450.49,301.77 450.87,302.02 451.25,301.12 451.63,301.07 452.01,301.55 452.39,302.10 452.77,300.95 453.14,301.26 453.52,301.42 453.90,302.13 454.28,300.47 454.66,301.00 455.04,300.92 455.42,301.92 455.80,301.56 456.18,302.64 456.55,301.67 456.93,302.25 457.31,301.51 457.69,300.54 458.07,298.91 458.45,301.95 458.83,300.99 459.21,302.09 459.59,301.93 459.96,301.47 460.34,302.35 460.72,301.09 461.10,303.75 461.48,302.60 461.86,302.13 462.24,301.82 462.62,302.50 463.00,301.45 463.37,302.56 463.75,298.70 464.13,302.93 464.51,302.17 464.89,302.32 465.27,300.28 465.65,302.10 466.03,301.11 466.41,301.29 466.78,301.65 467.16,301.47 467.54,302.50 467.92,302.07 468.30,301.62 468.68,303.45 469.06,302.77 469.44,302.24 469.82,300.37 470.19,301.12 470.57,302.42 470.95,301.53 471.33,301.45 471.71,302.35 472.09,303.11 472.47,301.89 472.85,302.22 473.23,301.85 473.60,302.45 473.98,301.55 474.36,301.71 474.74,302.13 475.12,302.27 475.50,301.78 475.88,302.52 476.26,301.61 476.64,301.95 477.01,303.26 477.39,302.41 477.77,301.76 478.15,303.38 478.53,303.68 478.91,303.90 479.29,302.30 479.67,303.25 480.05,301.66 480.42,300.95 480.80,301.82 481.18,302.52 481.56,301.64 481.94,303.04 482.32,302.33 482.70,303.39 483.08,302.01 483.46,302.12 483.83,302.99 484.21,302.78 484.59,304.53 484.97,303.59 485.35,301.30 485.73,302.34 486.11,302.18 486.49,303.34 486.87,303.11 487.24,302.69 487.62,301.73 488.00,304.02 488.38,301.11 488.76,302.39 489.14,302.24 489.52,302.02 489.90,299.62 490.28,302.08 490.65,304.30 491.03,303.26 491.41,299.97 491.79,303.04 492.17,303.58 492.55,302.77 492.93,303.04 493.31,301.48 493.69,302.21 494.06,303.65 494.44,302.14 494.82,301.73 495.20,302.05 495.58,302.34 495.96,302.83 496.34,302.90 496.72,302.56 497.10,303.08 497.47,303.07 497.85,302.79 498.23,301.47 498.61,302.15 498.99,303.01 499.37,303.34 499.75,303.42 500.13,301.89 500.50,303.03 500.88,303.46 501.26,303.20 501.64,300.89 502.02,304.50 502.40,302.82 502.78,304.10 503.16,302.84 503.54,303.53 503.91,301.59 504.29,301.84 504.67,298.19 505.05,302.07 505.43,303.64 505.81,303.64 506.19,303.90 506.57,302.98 506.95,304.53 507.32,302.23 507.70,303.90 508.08,303.82 508.46,302.18 508.84,303.44 509.22,303.73 509.60,303.48 509.98,303.16 510.36,303.08 510.73,303.87 511.11,302.97 511.49,303.39 511.87,303.90 512.25,303.77 512.63,302.98 513.01,304.29 513.39,303.77 513.77,302.55 514.14,304.39 514.52,303.70" fill="none" stroke="#111" stroke-width="1.8" stroke-linejoin="round" stroke-linejoin="miter"/>
<polyline points="317.88,305.93 318.26,308.21 318.64,307.19 319.02,307.23 319.40,306.27 319.78,307.03 320.16,304.73 320.54,305.52 320.92,306.97 321.29,306.99 321.67,306.71 322.05,306.15 322.43,304.44 322.81,305.38 323.19,305.59 323.57,305.39 323.95,306.56 324.33,305.17 324.70,306.32 325.08,305.77 325.46,304.90 325.84,305.70 326.22,305.72 326.60,305.96 326.98,305.41 327.36,306.22 327.74,304.86 328.11,304.54 328.49,304.91 328.87,304.37 329.25,304.37 329.63,305.81 330.01,304.05 330.39,304.21 330.77,304.32 331.15,306.01 331.52,304.33 331.90,303.98 332.28,303.01 332.66,305.58 333.04,303.46 333.42,304.91 333.80,304.69 334.18,304.23 334.56,304.27 334.93,302.97 335.31,304.54 335.69,304.08 336.07,303.66 336.45,303.28 336.83,303.39 337.21,303.60 337.59,302.90 337.97,303.85 338.34,302.78 338.72,304.17 339.10,303.04 339.48,304.04 339.86,303.40 340.24,302.56 340.62,303.89 341.00,304.12 341.38,302.34 341.75,303.40 342.13,302.97 342.51,302.32 342.89,302.51 343.27,301.97 343.65,303.30 344.03,303.66 344.41,303.04 344.79,301.20 345.16,303.49 345.54,304.15 345.92,303.33 346.30,301.26 346.68,301.51 347.06,301.85 347.44,302.64 347.82,303.80 348.20,303.57 348.57,302.63 348.95,303.18 349.33,304.18 349.71,301.70 350.09,301.95 350.47,302.14 350.85,303.25 351.23,302.52 351.61,303.20 351.98,302.20 352.36,301.45 352.74,300.33 353.12,302.13 353.50,301.77 353.88,302.02 354.26,302.33 354.64,301.27 355.02,302.05 355.39,301.11 355.77,302.76 356.15,302.30 356.53,301.88 356.91,301.61 357.29,302.22 357.67,301.17 358.05,302.19 358.42,300.93 358.80,301.24 359.18,300.66 359.56,299.18 359.94,300.50 360.32,301.86 360.70,302.36 361.08,301.16 361.46,301.48 361.83,301.67 362.21,302.34 362.59,301.62 362.97,301.36 363.35,301.86 363.73,302.98 364.11,302.37 364.49,302.41 364.87,301.59 365.24,301.51 365.62,302.17 366.00,302.70 366.38,302.63 366.76,302.08 367.14,301.47 367.52,302.51 367.90,300.28 368.28,301.98 368.65,302.39 369.03,302.65 369.41,301.61 369.79,302.55 370.17,301.82 370.55,302.62 370.93,301.32 371.31,304.49 371.69,302.89 372.06,301.63 372.44,301.49 372.82,303.16 373.20,301.35 373.58,302.15 373.96,298.78 374.34,300.77 374.72,302.30 375.10,300.44 375.47,300.81 375.85,302.58 376.23,302.24 376.61,300.31 376.99,302.57 377.37,302.32 377.75,302.50 378.13,301.95 378.51,301.44 378.88,301.43 379.26,302.00 379.64,302.58 380.02,301.26 380.40,302.39 380.78,302.64 381.16,301.60 381.54,301.38 381.92,300.23 382.29,303.48 382.67,303.16 383.05,302.51 383.43,301.35 383.81,301.92 384.19,302.81 384.57,302.07 384.95,302.62 385.33,301.78 385.70,302.47 386.08,302.47 386.46,301.58 386.84,302.13 387.22,302.26 387.60,301.98 387.98,303.89 388.36,300.66 388.74,301.95 389.11,301.59 389.49,301.90 389.87,303.05 390.25,302.45 390.63,301.05 391.01,301.95 391.39,302.52 391.77,303.51 392.15,304.12 392.52,302.78 392.90,303.34 393.28,303.00 393.66,302.35 394.04,303.74 394.42,303.26 394.80,302.58 395.18,302.22 395.56,302.84 395.93,302.42 396.31,303.29 396.69,303.87 397.07,302.38 397.45,302.73 397.83,302.61 398.21,301.93 398.59,301.86 398.97,301.24 399.34,302.49 399.72,302.86 400.10,303.13 400.48,302.90 400.86,301.94 401.24,301.48 401.62,302.98 402.00,301.81 402.38,302.52 402.75,302.61 403.13,303.39 403.51,302.66 403.89,303.12 404.27,302.46 404.65,302.71 405.03,302.91 405.41,302.29 405.78,301.99 406.16,302.62 406.54,302.76 406.92,299.02 407.30,302.27 407.68,303.30 408.06,304.18 408.44,303.00 408.82,303.27 409.19,302.22 409.57,304.33 409.95,302.50 410.33,303.26 410.71,302.61 411.09,302.16 411.47,302.27 411.85,304.10 412.23,303.49 412.60,302.82 412.98,302.64 413.36,304.27 413.74,302.86 414.12,301.90 414.50,302.89 414.88,302.78 415.26,303.22 415.64,302.34 416.01,303.27 416.39,303.50 416.77,304.77 417.15,301.11 417.53,303.03 417.91,303.33 418.29,302.15 418.67,303.33 419.05,302.87 419.42,302.93 419.80,302.79 420.18,303.78 420.56,303.26 420.94,303.96 421.32,302.73 421.70,302.33 422.08,303.17 422.46,304.01 422.83,300.97 423.21,302.80 423.59,302.49 423.97,301.35 424.35,303.72 424.73,303.03 425.11,303.32 425.49,302.35 425.87,302.70 426.24,302.60 426.62,303.30 427.00,303.94 427.38,302.77 427.76,302.61 428.14,303.64 428.52,303.42 428.90,304.04 429.28,302.17 429.65,302.94 430.03,302.51 430.41,303.27 430.79,302.81 431.17,301.97 431.55,303.59 431.93,304.18 432.31,302.53 432.69,303.37 433.06,303.21 433.44,299.58 433.82,304.07 434.20,303.74 434.58,304.57 434.96,301.19 435.34,304.23 435.72,303.28 436.10,304.18 436.47,303.29 436.85,302.33 437.23,302.56 437.61,303.05 437.99,302.54 438.37,302.80 438.75,301.85 439.13,302.46 439.51,302.69 439.88,303.93 440.26,303.34 440.64,302.97 441.02,302.95 441.40,301.35 441.78,303.93 442.16,304.20 442.54,303.96 442.92,303.20 443.29,303.52 443.67,302.84 444.05,304.43 444.43,303.23 444.81,304.13 445.19,302.43 445.57,303.94 445.95,303.43 446.33,303.18 446.70,303.55 447.08,302.90 447.46,304.29 447.84,303.18 448.22,303.88 448.60,302.36 448.98,304.74 449.36,301.33 449.74,302.46 450.11,302.23 450.49,304.18 450.87,303.66 451.25,303.67 451.63,300.04 452.01,304.12 452.39,299.61 452.77,303.36 453.14,303.78 453.52,304.75 453.90,305.02 454.28,304.34 454.66,302.03 455.04,304.95 455.42,303.82 455.80,304.20 456.18,302.75 456.55,304.28 456.93,302.95 457.31,304.52 457.69,302.95 458.07,303.81 458.45,303.57 458.83,302.88 459.21,304.12 459.59,303.27 459.96,302.89 460.34,303.69 460.72,304.77 461.10,303.04 461.48,303.98 461.86,303.33 462.24,304.46 462.62,304.10 463.00,304.74 463.37,304.00 463.75,302.76 464.13,303.67 464.51,303.28 464.89,303.59 465.27,303.68 465.65,304.57 466.03,302.82 466.41,303.06 466.78,302.99 467.16,302.81 467.54,304.48 467.92,303.90 468.30,305.16 468.68,304.34 469.06,304.31 469.44,303.34 469.82,301.27 470.19,302.96 470.57,303.92 470.95,302.56 471.33,304.07 471.71,302.08 472.09,304.00 472.47,303.19 472.85,303.88 473.23,304.40 473.60,304.89 473.98,304.85 474.36,303.74 474.74,303.99 475.12,305.14 475.50,305.08 475.88,302.74 476.26,302.29 476.64,303.48 477.01,303.13 477.39,304.55 477.77,304.26 478.15,303.74 478.53,304.86 478.91,303.93 479.29,305.41 479.67,305.45 480.05,304.76 480.42,304.52 480.80,303.77 481.18,304.84 481.56,303.22 481.94,304.54 482.32,303.21 482.70,304.04 483.08,304.46 483.46,303.46 483.83,303.74 484.21,304.95 484.59,304.67 484.97,303.39 485.35,305.05 485.73,303.66 486.11,303.64 486.49,303.14 486.87,304.09 487.24,305.32 487.62,305.07 488.00,300.54 488.38,304.64 488.76,304.58 489.14,304.62 489.52,304.62 489.90,303.26 490.28,303.52 490.65,303.63 491.03,304.25 491.41,304.30 491.79,304.47 492.17,303.00 492.55,303.76 492.93,304.32 493.31,303.96 493.69,304.09 494.06,305.21 494.44,305.30 494.82,303.24 495.20,304.59 495.58,303.45 495.96,303.80 496.34,303.33 496.72,304.64 497.10,304.11 497.47,304.38 497.85,303.51 498.23,304.66 498.61,304.03 498.99,303.67 499.37,302.77 499.75,305.56 500.13,304.31 500.50,304.39 500.88,304.33 501.26,303.33 501.64,303.74 502.02,305.55 502.40,303.95 502.78,305.21 503.16,304.45 503.54,304.24 503.91,299.79 504.29,304.66 504.67,304.09 505.05,305.46 505.43,305.43 505.81,304.21 506.19,304.07 506.57,304.37 506.95,304.23 507.32,303.81 507.70,303.63 508.08,303.79 508.46,304.76 508.84,304.24 509.22,305.17 509.60,303.09 509.98,305.20 510.36,304.30 510.73,304.10 511.11,305.56 511.49,302.63 511.87,304.79 512.25,302.50 512.63,304.07 513.01,304.50 513.39,306.32 513.77,303.38 514.14,304.78 514.52,305.50" fill="none" stroke="#111" stroke-width="1.8" stroke-linejoin="round" stroke-linejoin="miter"/>
<polyline points="321.20,306.40 322.15,296.74 323.09,287.96 324.04,279.98 324.99,272.74 325.94,266.16 326.88,260.18 327.83,254.74 328.78,249.81 329.72,245.33 330.67,241.25 331.62,237.55 332.57,234.19 333.51,231.14 334.46,228.36 335.41,225.84 336.36,223.55 337.30,221.47 338.25,219.59 339.20,217.87 340.14,216.31 341.09,214.89 342.04,213.61 342.99,212.44 343.93,211.37 344.88,210.41 345.83,209.53 346.77,208.74 347.72,208.01 348.67,207.36 349.62,206.76 350.56,206.22 351.51,205.72 352.46,205.28 353.40,204.87 354.35,204.50 355.30,204.16 356.25,203.86 357.19,203.58 358.14,203.33 359.09,203.10 360.04,202.89 360.98,203.59 361.93,204.57 362.88,205.54 363.82,206.51 364.77,207.46 365.72,208.41 366.67,209.34 367.61,210.27 368.56,211.19 369.51,212.10 370.45,213.00 371.40,213.89 372.35,214.77 373.30,215.65 374.24,216.52 375.19,217.38 376.14,218.23 377.08,219.07 378.03,219.90 378.98,220.73 379.93,221.55 380.87,222.36 381.82,223.16 382.77,223.96 383.72,224.74 384.66,225.52 385.61,226.30 386.56,227.06 387.50,227.82 388.45,228.57 389.40,229.32 390.35,230.05 391.29,230.78 392.24,231.50 393.19,232.22 394.13,232.93 395.08,233.63 396.03,234.33 396.98,235.01 397.92,235.70 398.87,236.37 399.82,237.04 400.76,237.70 401.71,238.36 402.66,239.01 403.61,239.65 404.55,240.29 405.50,240.92 406.45,241.55 407.40,242.17 408.34,242.78 409.29,243.39 410.24,243.99 411.18,244.59 412.13,245.18 413.08,245.76 414.03,246.34 414.97,246.92 415.92,247.48 416.87,248.05 417.81,248.60 418.76,249.16 419.71,249.70 420.66,250.25 421.60,250.78 422.55,251.31 423.50,251.84 424.44,252.36 425.39,252.88 426.34,253.39 427.29,253.90 428.23,254.40 429.18,254.89 430.13,255.39 431.08,255.87 432.02,256.36 432.97,256.83 433.92,257.31 434.86,257.78 435.81,258.24 436.76,258.70 437.71,259.16 438.65,259.61 439.60,260.06 440.55,260.50 441.49,260.94 442.44,261.37 443.39,261.80 444.34,262.23 445.28,262.65 446.23,263.07 447.18,263.48 448.12,263.89 449.07,264.30 450.02,264.70 450.97,265.10 451.91,265.49 452.86,265.88 453.81,266.27 454.76,266.65 455.70,267.03 456.65,267.41 457.60,267.78 458.54,268.15 459.49,268.52 460.44,268.88 461.39,269.24 462.33,269.59 463.28,269.94 464.23,270.29 465.17,270.64 466.12,270.98 467.07,271.32 468.02,271.65 468.96,271.98 469.91,272.31 470.86,272.64 471.80,272.96 472.75,273.28 473.70,273.60 474.65,273.91 475.59,274.22 476.54,274.53 477.49,274.83 478.44,275.13 479.38,275.43 480.33,275.73 481.28,276.02 482.22,276.31 483.17,276.60 484.12,276.88 485.07,277.17 486.01,277.45 486.96,277.72 487.91,278.00 488.85,278.27 489.80,278.54 490.75,278.80 491.70,279.07 492.64,279.33 493.59,279.59 494.54,279.84 495.48,280.10 496.43,280.35 497.38,280.60 498.33,280.84 499.27,281.09 500.22,281.33 501.17,281.57 502.12,281.81 503.06,282.04 504.01,282.27 504.96,282.50 505.90,282.73 506.85,282.96 507.80,283.18 508.75,283.40 509.69,283.62 510.64,283.84 511.59,284.06 512.53,284.27 513.48,284.48 514.43,284.69" fill="none" stroke="#c8502c" stroke-width="1.0" stroke-linejoin="round"/>
<polyline points="321.20,306.40 322.15,302.61 323.09,298.98 324.04,295.52 324.99,292.22 325.94,289.07 326.88,286.05 327.83,283.17 328.78,280.42 329.72,277.80 330.67,275.29 331.62,272.90 332.57,270.61 333.51,268.43 334.46,266.34 335.41,264.35 336.36,262.45 337.30,260.63 338.25,258.89 339.20,257.24 340.14,255.65 341.09,254.14 342.04,252.70 342.99,251.32 343.93,250.00 344.88,248.75 345.83,247.55 346.77,246.40 347.72,245.30 348.67,244.26 349.62,243.26 350.56,242.30 351.51,241.39 352.46,240.52 353.40,239.69 354.35,238.90 355.30,238.14 356.25,237.41 357.19,236.72 358.14,236.06 359.09,235.43 360.04,234.83 360.98,235.22 361.93,235.93 362.88,236.63 363.82,237.32 364.77,238.01 365.72,238.69 366.67,239.36 367.61,240.03 368.56,240.69 369.51,241.35 370.45,241.99 371.40,242.63 372.35,243.27 373.30,243.90 374.24,244.52 375.19,245.13 376.14,245.74 377.08,246.35 378.03,246.94 378.98,247.54 379.93,248.12 380.87,248.70 381.82,249.28 382.77,249.84 383.72,250.41 384.66,250.96 385.61,251.52 386.56,252.06 387.50,252.60 388.45,253.14 389.40,253.67 390.35,254.19 391.29,254.71 392.24,255.23 393.19,255.74 394.13,256.24 395.08,256.74 396.03,257.23 396.98,257.72 397.92,258.21 398.87,258.69 399.82,259.16 400.76,259.63 401.71,260.10 402.66,260.56 403.61,261.01 404.55,261.46 405.50,261.91 406.45,262.35 407.40,262.79 408.34,263.23 409.29,263.66 410.24,264.08 411.18,264.50 412.13,264.92 413.08,265.33 414.03,265.74 414.97,266.15 415.92,266.55 416.87,266.94 417.81,267.34 418.76,267.72 419.71,268.11 420.66,268.49 421.60,268.87 422.55,269.24 423.50,269.61 424.44,269.98 425.39,270.34 426.34,270.70 427.29,271.05 428.23,271.40 429.18,271.75 430.13,272.10 431.08,272.44 432.02,272.78 432.97,273.11 433.92,273.44 434.86,273.77 435.81,274.09 436.76,274.42 437.71,274.73 438.65,275.05 439.60,275.36 440.55,275.67 441.49,275.98 442.44,276.28 443.39,276.58 444.34,276.88 445.28,277.17 446.23,277.46 447.18,277.75 448.12,278.03 449.07,278.32 450.02,278.59 450.97,278.87 451.91,279.15 452.86,279.42 453.81,279.69 454.76,279.95 455.70,280.21 456.65,280.47 457.60,280.73 458.54,280.99 459.49,281.24 460.44,281.49 461.39,281.74 462.33,281.98 463.28,282.23 464.23,282.47 465.17,282.71 466.12,282.94 467.07,283.18 468.02,283.41 468.96,283.63 469.91,283.86 470.86,284.09 471.80,284.31 472.75,284.53 473.70,284.75 474.65,284.96 475.59,285.17 476.54,285.39 477.49,285.59 478.44,285.80 479.38,286.01 480.33,286.21 481.28,286.41 482.22,286.61 483.17,286.81 484.12,287.00 485.07,287.19 486.01,287.39 486.96,287.57 487.91,287.76 488.85,287.95 489.80,288.13 490.75,288.31 491.70,288.49 492.64,288.67 493.59,288.85 494.54,289.02 495.48,289.19 496.43,289.37 497.38,289.54 498.33,289.70 499.27,289.87 500.22,290.03 501.17,290.20 502.12,290.36 503.06,290.52 504.01,290.68 504.96,290.83 505.90,290.99 506.85,291.14 507.80,291.29 508.75,291.44 509.69,291.59 510.64,291.74 511.59,291.88 512.53,292.03 513.48,292.17 514.43,292.31" fill="none" stroke="#c8502c" stroke-width="1.0" stroke-linejoin="round"/>
<polyline points="321.20,306.40 322.15,304.60 323.09,302.87 324.04,301.22 324.99,299.64 325.94,298.13 326.88,296.68 327.83,295.30 328.78,293.98 329.72,292.71 330.67,291.49 331.62,290.33 332.57,289.22 333.51,288.16 334.46,287.14 335.41,286.17 336.36,285.24 337.30,284.35 338.25,283.49 339.20,282.68 340.14,281.90 341.09,281.15 342.04,280.43 342.99,279.75 343.93,279.09 344.88,278.47 345.83,277.87 346.77,277.29 347.72,276.74 348.67,276.22 349.62,275.71 350.56,275.23 351.51,274.77 352.46,274.33 353.40,273.91 354.35,273.50 355.30,273.12 356.25,272.75 357.19,272.39 358.14,272.06 359.09,271.73 360.04,271.42 360.98,271.57 361.93,271.87 362.88,272.16 363.82,272.46 364.77,272.75 365.72,273.04 366.67,273.32 367.61,273.61 368.56,273.89 369.51,274.17 370.45,274.44 371.40,274.71 372.35,274.99 373.30,275.26 374.24,275.52 375.19,275.79 376.14,276.05 377.08,276.31 378.03,276.57 378.98,276.82 379.93,277.07 380.87,277.33 381.82,277.57 382.77,277.82 383.72,278.07 384.66,278.31 385.61,278.55 386.56,278.79 387.50,279.02 388.45,279.26 389.40,279.49 390.35,279.72 391.29,279.95 392.24,280.18 393.19,280.40 394.13,280.62 395.08,280.84 396.03,281.06 396.98,281.28 397.92,281.50 398.87,281.71 399.82,281.92 400.76,282.13 401.71,282.34 402.66,282.54 403.61,282.75 404.55,282.95 405.50,283.15 406.45,283.35 407.40,283.55 408.34,283.74 409.29,283.94 410.24,284.13 411.18,284.32 412.13,284.51 413.08,284.70 414.03,284.88 414.97,285.07 415.92,285.25 416.87,285.43 417.81,285.61 418.76,285.79 419.71,285.96 420.66,286.14 421.60,286.31 422.55,286.49 423.50,286.66 424.44,286.83 425.39,286.99 426.34,287.16 427.29,287.32 428.23,287.49 429.18,287.65 430.13,287.81 431.08,287.97 432.02,288.13 432.97,288.28 433.92,288.44 434.86,288.59 435.81,288.74 436.76,288.90 437.71,289.05 438.65,289.19 439.60,289.34 440.55,289.49 441.49,289.63 442.44,289.78 443.39,289.92 444.34,290.06 445.28,290.20 446.23,290.34 447.18,290.48 448.12,290.61 449.07,290.75 450.02,290.88 450.97,291.01 451.91,291.15 452.86,291.28 453.81,291.41 454.76,291.53 455.70,291.66 456.65,291.79 457.60,291.91 458.54,292.04 459.49,292.16 460.44,292.28 461.39,292.40 462.33,292.52 463.28,292.64 464.23,292.76 465.17,292.88 466.12,292.99 467.07,293.11 468.02,293.22 468.96,293.33 469.91,293.45 470.86,293.56 471.80,293.67 472.75,293.78 473.70,293.88 474.65,293.99 475.59,294.10 476.54,294.20 477.49,294.31 478.44,294.41 479.38,294.51 480.33,294.61 481.28,294.72 482.22,294.82 483.17,294.91 484.12,295.01 485.07,295.11 486.01,295.21 486.96,295.30 487.91,295.40 488.85,295.49 489.80,295.59 490.75,295.68 491.70,295.77 492.64,295.86 493.59,295.95 494.54,296.04 495.48,296.13 496.43,296.22 497.38,296.30 498.33,296.39 499.27,296.48 500.22,296.56 501.17,296.65 502.12,296.73 503.06,296.81 504.01,296.89 504.96,296.98 505.90,297.06 506.85,297.14 507.80,297.22 508.75,297.29 509.69,297.37 510.64,297.45 511.59,297.53 512.53,297.60 513.48,297.68 514.43,297.75" fill="none" stroke="#c8502c" stroke-width="1.0" stroke-linejoin="round"/>
<polyline points="321.20,306.40 322.15,305.78 323.09,305.18 324.04,304.60 324.99,304.05 325.94,303.51 326.88,303.00 327.83,302.51 328.78,302.04 329.72,301.59 330.67,301.15 331.62,300.73 332.57,300.33 333.51,299.94 334.46,299.57 335.41,299.22 336.36,298.87 337.30,298.54 338.25,298.23 339.20,297.92 340.14,297.63 341.09,297.35 342.04,297.08 342.99,296.82 343.93,296.57 344.88,296.34 345.83,296.11 346.77,295.89 347.72,295.67 348.67,295.47 349.62,295.27 350.56,295.09 351.51,294.91 352.46,294.73 353.40,294.56 354.35,294.40 355.30,294.25 356.25,294.10 357.19,293.96 358.14,293.82 359.09,293.69 360.04,293.57 360.98,293.61 361.93,293.71 362.88,293.80 363.82,293.90 364.77,293.99 365.72,294.09 366.67,294.18 367.61,294.27 368.56,294.36 369.51,294.45 370.45,294.55 371.40,294.63 372.35,294.72 373.30,294.81 374.24,294.90 375.19,294.99 376.14,295.07 377.08,295.16 378.03,295.24 378.98,295.33 379.93,295.41 380.87,295.50 381.82,295.58 382.77,295.66 383.72,295.74 384.66,295.82 385.61,295.90 386.56,295.98 387.50,296.06 388.45,296.14 389.40,296.22 390.35,296.29 391.29,296.37 392.24,296.45 393.19,296.52 394.13,296.60 395.08,296.67 396.03,296.74 396.98,296.82 397.92,296.89 398.87,296.96 399.82,297.03 400.76,297.10 401.71,297.17 402.66,297.24 403.61,297.31 404.55,297.38 405.50,297.45 406.45,297.52 407.40,297.59 408.34,297.65 409.29,297.72 410.24,297.78 411.18,297.85 412.13,297.91 413.08,297.98 414.03,298.04 414.97,298.11 415.92,298.17 416.87,298.23 417.81,298.29 418.76,298.35 419.71,298.42 420.66,298.48 421.60,298.54 422.55,298.60 423.50,298.65 424.44,298.71 425.39,298.77 426.34,298.83 427.29,298.89 428.23,298.94 429.18,299.00 430.13,299.06 431.08,299.11 432.02,299.17 432.97,299.22 433.92,299.28 434.86,299.33 435.81,299.38 436.76,299.44 437.71,299.49 438.65,299.54 439.60,299.59 440.55,299.64 441.49,299.70 442.44,299.75 443.39,299.80 444.34,299.85 445.28,299.90 446.23,299.95 447.18,299.99 448.12,300.04 449.07,300.09 450.02,300.14 450.97,300.19 451.91,300.23 452.86,300.28 453.81,300.33 454.76,300.37 455.70,300.42 456.65,300.46 457.60,300.51 458.54,300.55 459.49,300.60 460.44,300.64 461.39,300.68 462.33,300.73 463.28,300.77 464.23,300.81 465.17,300.86 466.12,300.90 467.07,300.94 468.02,300.98 468.96,301.02 469.91,301.06 470.86,301.10 471.80,301.14 472.75,301.18 473.70,301.22 474.65,301.26 475.59,301.30 476.54,301.34 477.49,301.38 478.44,301.42 479.38,301.45 480.33,301.49 481.28,301.53 482.22,301.56 483.17,301.60 484.12,301.64 485.07,301.67 486.01,301.71 486.96,301.75 487.91,301.78 488.85,301.82 489.80,301.85 490.75,301.88 491.70,301.92 492.64,301.95 493.59,301.99 494.54,302.02 495.48,302.05 496.43,302.09 497.38,302.12 498.33,302.15 499.27,302.18 500.22,302.21 501.17,302.25 502.12,302.28 503.06,302.31 504.01,302.34 504.96,302.37 505.90,302.40 506.85,302.43 507.80,302.46 508.75,302.49 509.69,302.52 510.64,302.55 511.59,302.58 512.53,302.61 513.48,302.64 514.43,302.67" fill="none" stroke="#c8502c" stroke-width="1.0" stroke-linejoin="round"/>
<polyline points="321.20,306.40 322.15,306.04 323.09,305.70 324.04,305.36 324.99,305.05 325.94,304.74 326.88,304.45 327.83,304.16 328.78,303.89 329.72,303.63 330.67,303.38 331.62,303.14 332.57,302.91 333.51,302.69 334.46,302.47 335.41,302.27 336.36,302.07 337.30,301.88 338.25,301.70 339.20,301.53 340.14,301.36 341.09,301.20 342.04,301.04 342.99,300.89 343.93,300.75 344.88,300.61 345.83,300.48 346.77,300.35 347.72,300.23 348.67,300.11 349.62,300.00 350.56,299.89 351.51,299.79 352.46,299.69 353.40,299.59 354.35,299.50 355.30,299.41 356.25,299.33 357.19,299.25 358.14,299.17 359.09,299.09 360.04,299.02 360.98,299.04 361.93,299.09 362.88,299.13 363.82,299.18 364.77,299.22 365.72,299.27 366.67,299.32 367.61,299.36 368.56,299.41 369.51,299.45 370.45,299.49 371.40,299.54 372.35,299.58 373.30,299.63 374.24,299.67 375.19,299.71 376.14,299.76 377.08,299.80 378.03,299.84 378.98,299.88 379.93,299.92 380.87,299.96 381.82,300.01 382.77,300.05 383.72,300.09 384.66,300.13 385.61,300.17 386.56,300.21 387.50,300.25 388.45,300.29 389.40,300.32 390.35,300.36 391.29,300.40 392.24,300.44 393.19,300.48 394.13,300.52 395.08,300.55 396.03,300.59 396.98,300.63 397.92,300.66 398.87,300.70 399.82,300.74 400.76,300.77 401.71,300.81 402.66,300.85 403.61,300.88 404.55,300.92 405.50,300.95 406.45,300.99 407.40,301.02 408.34,301.05 409.29,301.09 410.24,301.12 411.18,301.16 412.13,301.19 413.08,301.22 414.03,301.26 414.97,301.29 415.92,301.32 416.87,301.35 417.81,301.39 418.76,301.42 419.71,301.45 420.66,301.48 421.60,301.51 422.55,301.54 423.50,301.57 424.44,301.61 425.39,301.64 426.34,301.67 427.29,301.70 428.23,301.73 429.18,301.76 430.13,301.79 431.08,301.82 432.02,301.84 432.97,301.87 433.92,301.90 434.86,301.93 435.81,301.96 436.76,301.99 437.71,302.02 438.65,302.04 439.60,302.07 440.55,302.10 441.49,302.13 442.44,302.15 443.39,302.18 444.34,302.21 445.28,302.24 446.23,302.26 447.18,302.29 448.12,302.31 449.07,302.34 450.02,302.37 450.97,302.39 451.91,302.42 452.86,302.44 453.81,302.47 454.76,302.49 455.70,302.52 456.65,302.54 457.60,302.57 458.54,302.59 459.49,302.62 460.44,302.64 461.39,302.66 462.33,302.69 463.28,302.71 464.23,302.74 465.17,302.76 466.12,302.78 467.07,302.81 468.02,302.83 468.96,302.85 469.91,302.87 470.86,302.90 471.80,302.92 472.75,302.94 473.70,302.96 474.65,302.98 475.59,303.01 476.54,303.03 477.49,303.05 478.44,303.07 479.38,303.09 480.33,303.11 481.28,303.13 482.22,303.16 483.17,303.18 484.12,303.20 485.07,303.22 486.01,303.24 486.96,303.26 487.91,303.28 488.85,303.30 489.80,303.32 490.75,303.34 491.70,303.36 492.64,303.38 493.59,303.40 494.54,303.41 495.48,303.43 496.43,303.45 497.38,303.47 498.33,303.49 499.27,303.51 500.22,303.53 501.17,303.55 502.12,303.56 503.06,303.58 504.01,303.60 504.96,303.62 505.90,303.63 506.85,303.65 507.80,303.67 508.75,303.69 509.69,303.70 510.64,303.72 511.59,303.74 512.53,303.76 513.48,303.77 514.43,303.79" fill="none" stroke="#c8502c" stroke-width="1.0" stroke-linejoin="round"/>
<polyline points="321.20,306.40 322.15,306.26 323.09,306.12 324.04,305.99 324.99,305.87 325.94,305.75 326.88,305.64 327.83,305.53 328.78,305.42 329.72,305.32 330.67,305.22 331.62,305.12 332.57,305.03 333.51,304.95 334.46,304.86 335.41,304.78 336.36,304.71 337.30,304.63 338.25,304.56 339.20,304.49 340.14,304.43 341.09,304.36 342.04,304.30 342.99,304.25 343.93,304.19 344.88,304.14 345.83,304.08 346.77,304.03 347.72,303.99 348.67,303.94 349.62,303.90 350.56,303.85 351.51,303.81 352.46,303.77 353.40,303.74 354.35,303.70 355.30,303.67 356.25,303.63 357.19,303.60 358.14,303.57 359.09,303.54 360.04,303.51 360.98,303.52 361.93,303.53 362.88,303.54 363.82,303.56 364.77,303.57 365.72,303.58 366.67,303.60 367.61,303.61 368.56,303.62 369.51,303.64 370.45,303.65 371.40,303.66 372.35,303.68 373.30,303.69 374.24,303.70 375.19,303.72 376.14,303.73 377.08,303.74 378.03,303.75 378.98,303.77 379.93,303.78 380.87,303.79 381.82,303.81 382.77,303.82 383.72,303.83 384.66,303.84 385.61,303.85 386.56,303.87 387.50,303.88 388.45,303.89 389.40,303.90 390.35,303.91 391.29,303.93 392.24,303.94 393.19,303.95 394.13,303.96 395.08,303.97 396.03,303.99 396.98,304.00 397.92,304.01 398.87,304.02 399.82,304.03 400.76,304.04 401.71,304.05 402.66,304.07 403.61,304.08 404.55,304.09 405.50,304.10 406.45,304.11 407.40,304.12 408.34,304.13 409.29,304.14 410.24,304.15 411.18,304.16 412.13,304.17 413.08,304.19 414.03,304.20 414.97,304.21 415.92,304.22 416.87,304.23 417.81,304.24 418.76,304.25 419.71,304.26 420.66,304.27 421.60,304.28 422.55,304.29 423.50,304.30 424.44,304.31 425.39,304.32 426.34,304.33 427.29,304.34 428.23,304.35 429.18,304.36 430.13,304.37 431.08,304.38 432.02,304.39 432.97,304.40 433.92,304.41 434.86,304.42 435.81,304.43 436.76,304.44 437.71,304.45 438.65,304.45 439.60,304.46 440.55,304.47 441.49,304.48 442.44,304.49 443.39,304.50 444.34,304.51 445.28,304.52 446.23,304.53 447.18,304.54 448.12,304.55 449.07,304.55 450.02,304.56 450.97,304.57 451.91,304.58 452.86,304.59 453.81,304.60 454.76,304.61 455.70,304.62 456.65,304.62 457.60,304.63 458.54,304.64 459.49,304.65 460.44,304.66 461.39,304.67 462.33,304.67 463.28,304.68 464.23,304.69 465.17,304.70 466.12,304.71 467.07,304.72 468.02,304.72 468.96,304.73 469.91,304.74 470.86,304.75 471.80,304.76 472.75,304.76 473.70,304.77 474.65,304.78 475.59,304.79 476.54,304.79 477.49,304.80 478.44,304.81 479.38,304.82 480.33,304.82 481.28,304.83 482.22,304.84 483.17,304.85 484.12,304.85 485.07,304.86 486.01,304.87 486.96,304.88 487.91,304.88 488.85,304.89 489.80,304.90 490.75,304.91 491.70,304.91 492.64,304.92 493.59,304.93 494.54,304.93 495.48,304.94 496.43,304.95 497.38,304.96 498.33,304.96 499.27,304.97 500.22,304.98 501.17,304.98 502.12,304.99 503.06,305.00 504.01,305.00 504.96,305.01 505.90,305.02 506.85,305.02 507.80,305.03 508.75,305.04 509.69,305.04 510.64,305.05 511.59,305.06 512.53,305.06 513.48,305.07 514.43,305.07" fill="none" stroke="#c8502c" stroke-width="1.0" stroke-linejoin="round"/>
<line x1="415.50" y1="221.50" x2="403.55" y2="234.49" stroke="#000" stroke-width="1.8"/>
<path d="M400.50,237.80L401.78,232.86L405.31,236.11Z" fill="#000"/>
<line x1="432.50" y1="238.50" x2="413.68" y2="263.89" stroke="#000" stroke-width="1.8"/>
<path d="M411.00,267.50L411.75,262.46L415.61,265.31Z" fill="#000"/>
<line x1="470.00" y1="251.00" x2="433.85" y2="283.49" stroke="#000" stroke-width="1.8"/>
<path d="M430.50,286.50L432.24,281.71L435.45,285.28Z" fill="#000"/>
<text x="411.20" y="219.60" font-size="11.6" text-anchor="start" fill="#222" stroke="#222" stroke-width="0.25">100 nM</text>
<text x="434.80" y="237.20" font-size="11.6" text-anchor="start" fill="#222" stroke="#222" stroke-width="0.25">33 nM</text>
<text x="471.20" y="255.60" font-size="11.6" text-anchor="start" fill="#222" stroke="#222" stroke-width="0.25">11 nM</text>
<text x="2.20" y="350.50" font-size="15.8" text-anchor="start" fill="#111" stroke="#111" stroke-width="0.25" font-weight="bold">E</text>
<line x1="43.80" y1="364.00" x2="43.80" y2="485.40" stroke="#222" stroke-width="1.3"/>
<line x1="43.20" y1="485.40" x2="189.00" y2="485.40" stroke="#222" stroke-width="1.3"/>
<line x1="41.00" y1="485.40" x2="43.80" y2="485.40" stroke="#222" stroke-width="1.1"/>
<text x="39.80" y="489.10" font-size="10.4" text-anchor="end" fill="#222" stroke="#222" stroke-width="0.25">0.0</text>
<line x1="41.00" y1="465.30" x2="43.80" y2="465.30" stroke="#222" stroke-width="1.1"/>
<text x="39.80" y="469.00" font-size="10.4" text-anchor="end" fill="#222" stroke="#222" stroke-width="0.25">0.2</text>
<line x1="41.00" y1="445.20" x2="43.80" y2="445.20" stroke="#222" stroke-width="1.1"/>
<text x="39.80" y="448.90" font-size="10.4" text-anchor="end" fill="#222" stroke="#222" stroke-width="0.25">0.4</text>
<line x1="41.00" y1="425.10" x2="43.80" y2="425.10" stroke="#222" stroke-width="1.1"/>
<text x="39.80" y="428.80" font-size="10.4" text-anchor="end" fill="#222" stroke="#222" stroke-width="0.25">0.6</text>
<line x1="41.00" y1="405.00" x2="43.80" y2="405.00" stroke="#222" stroke-width="1.1"/>
<text x="39.80" y="408.70" font-size="10.4" text-anchor="end" fill="#222" stroke="#222" stroke-width="0.25">0.8</text>
<line x1="41.00" y1="384.90" x2="43.80" y2="384.90" stroke="#222" stroke-width="1.1"/>
<text x="39.80" y="388.60" font-size="10.4" text-anchor="end" fill="#222" stroke="#222" stroke-width="0.25">1.0</text>
<line x1="41.00" y1="364.80" x2="43.80" y2="364.80" stroke="#222" stroke-width="1.1"/>
<text x="39.80" y="368.50" font-size="10.4" text-anchor="end" fill="#222" stroke="#222" stroke-width="0.25">1.2</text>
<line x1="58.14" y1="485.40" x2="58.14" y2="487.20" stroke="#222" stroke-width="0.9"/>
<line x1="63.53" y1="485.40" x2="63.53" y2="487.20" stroke="#222" stroke-width="0.9"/>
<line x1="68.20" y1="485.40" x2="68.20" y2="487.20" stroke="#222" stroke-width="0.9"/>
<line x1="72.32" y1="485.40" x2="72.32" y2="487.20" stroke="#222" stroke-width="0.9"/>
<line x1="100.23" y1="485.40" x2="100.23" y2="487.20" stroke="#222" stroke-width="0.9"/>
<line x1="114.41" y1="485.40" x2="114.41" y2="487.20" stroke="#222" stroke-width="0.9"/>
<line x1="124.47" y1="485.40" x2="124.47" y2="487.20" stroke="#222" stroke-width="0.9"/>
<line x1="132.27" y1="485.40" x2="132.27" y2="487.20" stroke="#222" stroke-width="0.9"/>
<line x1="138.64" y1="485.40" x2="138.64" y2="487.20" stroke="#222" stroke-width="0.9"/>
<line x1="144.03" y1="485.40" x2="144.03" y2="487.20" stroke="#222" stroke-width="0.9"/>
<line x1="148.70" y1="485.40" x2="148.70" y2="487.20" stroke="#222" stroke-width="0.9"/>
<line x1="152.82" y1="485.40" x2="152.82" y2="487.20" stroke="#222" stroke-width="0.9"/>
<line x1="76.00" y1="485.40" x2="76.00" y2="488.60" stroke="#222" stroke-width="1.1"/>
<text x="76.00" y="499.60" font-size="10.4" text-anchor="middle" fill="#222" stroke="#222" stroke-width="0.25">10</text>
<line x1="156.50" y1="485.40" x2="156.50" y2="488.60" stroke="#222" stroke-width="1.1"/>
<text x="156.50" y="499.60" font-size="10.4" text-anchor="middle" fill="#222" stroke="#222" stroke-width="0.25">100</text>
<line x1="180.73" y1="485.40" x2="180.73" y2="488.60" stroke="#222" stroke-width="1.1"/>
<text x="180.73" y="499.60" font-size="10.4" text-anchor="middle" fill="#222" stroke="#222" stroke-width="0.25">200</text>
<text x="126.80" y="513.60" font-size="11.9" text-anchor="middle" fill="#222" stroke="#222" stroke-width="0.25">Peptide/HLA-A2 (&#956;g/mL)</text>
<text transform="translate(18.2,455) rotate(-90)" font-size="12.2" fill="#222" stroke="#222" stroke-width="0.25">OD<tspan font-size="7.8" dy="2.6">370-490</tspan></text>
<polyline points="59.10,480.38 83.40,480.38 107.70,480.38 132.00,479.37 156.40,478.87 180.80,475.35" fill="none" stroke="#52a83a" stroke-width="1.6" stroke-linejoin="round"/>
<rect x="105.40" y="478.07" width="4.60" height="4.60" fill="#52a83a"/>
<rect x="129.70" y="477.07" width="4.60" height="4.60" fill="#52a83a"/>
<rect x="154.10" y="476.57" width="4.60" height="4.60" fill="#52a83a"/>
<rect x="178.50" y="473.05" width="4.60" height="4.60" fill="#52a83a"/>
<polyline points="59.10,480.38 83.40,480.38 107.70,479.37 132.00,475.35 156.40,421.08 180.80,393.94" fill="none" stroke="#111" stroke-width="1.1" stroke-linejoin="round"/>
<polyline points="59.10,480.38 83.40,480.38 107.70,475.35 132.00,455.25 156.40,384.90 180.80,378.87" fill="none" stroke="#111" stroke-width="1.1" stroke-linejoin="round"/>
<polyline points="59.10,480.38 83.40,480.38 107.70,474.34 132.00,450.22 156.40,383.89 180.80,377.86" fill="none" stroke="#111" stroke-width="1.1" stroke-linejoin="round"/>
<polyline points="59.10,480.38 83.40,480.38 107.70,477.36 132.00,463.29 156.40,388.92 180.80,382.89" fill="none" stroke="#111" stroke-width="1.1" stroke-linejoin="round"/>
<polyline points="59.10,480.38 83.40,480.38 107.70,476.35 132.00,457.26 156.40,386.91 180.80,380.88" fill="none" stroke="#111" stroke-width="1.1" stroke-linejoin="round"/>
<polyline points="59.10,480.38 83.40,480.38 107.70,475.35 132.00,452.23 156.40,387.91 180.80,381.88" fill="none" stroke="#111" stroke-width="1.1" stroke-linejoin="round"/>
<polyline points="59.10,480.38 83.40,480.38 107.70,473.34 132.00,447.21 156.40,382.89 180.80,379.88" fill="none" stroke="#111" stroke-width="1.1" stroke-linejoin="round"/>
<polyline points="59.10,480.38 83.40,480.38 107.70,476.35 132.00,458.26 156.40,389.92 180.80,384.90" fill="none" stroke="#111" stroke-width="1.1" stroke-linejoin="round"/>
<polyline points="59.10,480.38 83.40,480.38 107.70,472.33 132.00,443.19 156.40,381.88 180.80,375.85" fill="none" stroke="#111" stroke-width="1.1" stroke-linejoin="round"/>
<path d="M57.00,478.69L61.20,478.69L59.10,482.48Z" fill="#111"/>
<path d="M81.30,478.69L85.50,478.69L83.40,482.48Z" fill="#111"/>
<path d="M105.60,477.69L109.80,477.69L107.70,481.47Z" fill="#111"/>
<path d="M129.90,473.67L134.10,473.67L132.00,477.45Z" fill="#111"/>
<path d="M154.30,419.40L158.50,419.40L156.40,423.18Z" fill="#111"/>
<path d="M178.70,392.26L182.90,392.26L180.80,396.05Z" fill="#111"/>
<path d="M57.00,480.38L59.10,478.27L61.20,480.38L59.10,482.48Z" fill="#111"/>
<path d="M81.30,480.38L83.40,478.27L85.50,480.38L83.40,482.48Z" fill="#111"/>
<path d="M105.60,475.35L107.70,473.25L109.80,475.35L107.70,477.45Z" fill="#111"/>
<path d="M129.90,455.25L132.00,453.15L134.10,455.25L132.00,457.35Z" fill="#111"/>
<path d="M154.30,384.90L156.40,382.80L158.50,384.90L156.40,387.00Z" fill="#111"/>
<path d="M178.70,378.87L180.80,376.77L182.90,378.87L180.80,380.97Z" fill="#111"/>
<circle cx="59.10" cy="480.38" r="2.1" fill="#111"/>
<circle cx="83.40" cy="480.38" r="2.1" fill="#111"/>
<circle cx="107.70" cy="474.34" r="2.1" fill="#111"/>
<circle cx="132.00" cy="450.22" r="2.1" fill="#111"/>
<circle cx="156.40" cy="383.89" r="2.1" fill="#111"/>
<circle cx="180.80" cy="377.86" r="2.1" fill="#111"/>
<rect x="57.20" y="478.48" width="3.80" height="3.80" fill="#fff" stroke="#111" stroke-width="0.9"/>
<rect x="81.50" y="478.48" width="3.80" height="3.80" fill="#fff" stroke="#111" stroke-width="0.9"/>
<rect x="105.80" y="475.46" width="3.80" height="3.80" fill="#fff" stroke="#111" stroke-width="0.9"/>
<rect x="130.10" y="461.39" width="3.80" height="3.80" fill="#fff" stroke="#111" stroke-width="0.9"/>
<rect x="154.50" y="387.02" width="3.80" height="3.80" fill="#fff" stroke="#111" stroke-width="0.9"/>
<rect x="178.90" y="380.99" width="3.80" height="3.80" fill="#fff" stroke="#111" stroke-width="0.9"/>
<path d="M57.20,481.89L61.00,481.89L59.10,478.48Z" fill="#fff" stroke="#111" stroke-width="0.9"/>
<path d="M81.50,481.89L85.30,481.89L83.40,478.48Z" fill="#fff" stroke="#111" stroke-width="0.9"/>
<path d="M105.80,477.87L109.60,477.87L107.70,474.45Z" fill="#fff" stroke="#111" stroke-width="0.9"/>
<path d="M130.10,458.78L133.90,458.78L132.00,455.36Z" fill="#fff" stroke="#111" stroke-width="0.9"/>
<path d="M154.50,388.43L158.30,388.43L156.40,385.01Z" fill="#fff" stroke="#111" stroke-width="0.9"/>
<path d="M178.90,382.40L182.70,382.40L180.80,378.98Z" fill="#fff" stroke="#111" stroke-width="0.9"/>
<path d="M57.20,478.86L61.00,478.86L59.10,482.27Z" fill="#fff" stroke="#111" stroke-width="0.9"/>
<path d="M81.50,478.86L85.30,478.86L83.40,482.27Z" fill="#fff" stroke="#111" stroke-width="0.9"/>
<path d="M105.80,473.83L109.60,473.83L107.70,477.25Z" fill="#fff" stroke="#111" stroke-width="0.9"/>
<path d="M130.10,450.71L133.90,450.71L132.00,454.13Z" fill="#fff" stroke="#111" stroke-width="0.9"/>
<path d="M154.50,386.39L158.30,386.39L156.40,389.81Z" fill="#fff" stroke="#111" stroke-width="0.9"/>
<path d="M178.90,380.37L182.70,380.37L180.80,383.78Z" fill="#fff" stroke="#111" stroke-width="0.9"/>
<path d="M57.00,480.38L59.10,478.27L61.20,480.38L59.10,482.48Z" fill="#111"/>
<path d="M81.30,480.38L83.40,478.27L85.50,480.38L83.40,482.48Z" fill="#111"/>
<path d="M105.60,473.34L107.70,471.24L109.80,473.34L107.70,475.44Z" fill="#111"/>
<path d="M129.90,447.21L132.00,445.11L134.10,447.21L132.00,449.31Z" fill="#111"/>
<path d="M154.30,382.89L156.40,380.79L158.50,382.89L156.40,384.99Z" fill="#111"/>
<path d="M178.70,379.88L180.80,377.77L182.90,379.88L180.80,381.98Z" fill="#111"/>
<circle cx="59.10" cy="480.38" r="1.9" fill="#fff" stroke="#111" stroke-width="0.9"/>
<circle cx="83.40" cy="480.38" r="1.9" fill="#fff" stroke="#111" stroke-width="0.9"/>
<circle cx="107.70" cy="476.35" r="1.9" fill="#fff" stroke="#111" stroke-width="0.9"/>
<circle cx="132.00" cy="458.26" r="1.9" fill="#fff" stroke="#111" stroke-width="0.9"/>
<circle cx="156.40" cy="389.92" r="1.9" fill="#fff" stroke="#111" stroke-width="0.9"/>
<circle cx="180.80" cy="384.90" r="1.9" fill="#fff" stroke="#111" stroke-width="0.9"/>
<path d="M57.10,478.38L61.10,482.38M57.10,482.38L61.10,478.38" stroke="#111" stroke-width="1.2"/>
<path d="M81.40,478.38L85.40,482.38M81.40,482.38L85.40,478.38" stroke="#111" stroke-width="1.2"/>
<path d="M105.70,470.33L109.70,474.33M105.70,474.33L109.70,470.33" stroke="#111" stroke-width="1.2"/>
<path d="M130.00,441.19L134.00,445.19M130.00,445.19L134.00,441.19" stroke="#111" stroke-width="1.2"/>
<path d="M154.40,379.88L158.40,383.88M154.40,383.88L158.40,379.88" stroke="#111" stroke-width="1.2"/>
<path d="M178.80,373.85L182.80,377.85M178.80,377.85L182.80,373.85" stroke="#111" stroke-width="1.2"/>
<rect x="56.40" y="477.68" width="5.40" height="5.40" fill="#111"/>
<rect x="80.70" y="477.68" width="5.40" height="5.40" fill="#111"/>
<polyline points="59.10,474.95 83.40,462.28 107.70,423.09 132.00,386.91 156.40,372.84 180.80,369.82" fill="none" stroke="#1515e0" stroke-width="1.6" stroke-linejoin="round"/>
<rect x="56.70" y="472.55" width="4.80" height="4.80" fill="#1515e0"/>
<rect x="81.00" y="459.88" width="4.80" height="4.80" fill="#1515e0"/>
<rect x="105.30" y="420.69" width="4.80" height="4.80" fill="#1515e0"/>
<rect x="129.60" y="384.51" width="4.80" height="4.80" fill="#1515e0"/>
<rect x="154.00" y="370.44" width="4.80" height="4.80" fill="#1515e0"/>
<rect x="178.40" y="367.43" width="4.80" height="4.80" fill="#1515e0"/>
<text x="220.20" y="368.20" font-size="9.1" text-anchor="start" fill="#222" stroke="#222" stroke-width="0.25">PR1</text>
<text x="220.20" y="381.84" font-size="9.1" text-anchor="start" fill="#222" stroke="#222" stroke-width="0.25">pp65</text>
<text x="220.20" y="395.48" font-size="9.1" text-anchor="start" fill="#222" stroke="#222" stroke-width="0.25">ALA1</text>
<text x="220.20" y="409.12" font-size="9.1" text-anchor="start" fill="#222" stroke="#222" stroke-width="0.25">ALA2</text>
<text x="220.20" y="422.76" font-size="9.1" text-anchor="start" fill="#222" stroke="#222" stroke-width="0.25">ALA3</text>
<text x="220.20" y="436.40" font-size="9.1" text-anchor="start" fill="#222" stroke="#222" stroke-width="0.25">ALA4</text>
<text x="220.20" y="450.04" font-size="9.1" text-anchor="start" fill="#222" stroke="#222" stroke-width="0.25">ALA5</text>
<text x="220.20" y="463.68" font-size="9.1" text-anchor="start" fill="#222" stroke="#222" stroke-width="0.25">ALA6</text>
<text x="220.20" y="477.32" font-size="9.1" text-anchor="start" fill="#222" stroke="#222" stroke-width="0.25">ALA7</text>
<text x="220.20" y="490.96" font-size="9.1" text-anchor="start" fill="#222" stroke="#222" stroke-width="0.25">ALA8</text>
<text x="220.20" y="504.60" font-size="9.1" text-anchor="start" fill="#222" stroke="#222" stroke-width="0.25">ALA9</text>
<line x1="201.10" y1="364.90" x2="217.60" y2="364.90" stroke="#1515e0" stroke-width="1.8"/>
<rect x="206.65" y="362.20" width="5.40" height="5.40" fill="#1515e0"/>
<line x1="201.10" y1="378.54" x2="217.60" y2="378.54" stroke="#52a83a" stroke-width="1.8"/>
<rect x="206.65" y="375.84" width="5.40" height="5.40" fill="#52a83a"/>
<line x1="201.10" y1="392.18" x2="217.60" y2="392.18" stroke="#111" stroke-width="1.4"/>
<path d="M206.85,390.18L211.85,390.18L209.35,394.68Z" fill="#111"/>
<line x1="201.10" y1="405.82" x2="217.60" y2="405.82" stroke="#111" stroke-width="1.4"/>
<path d="M207.35,405.82L209.35,403.82L211.35,405.82L209.35,407.82Z" fill="#111"/>
<line x1="201.10" y1="419.46" x2="217.60" y2="419.46" stroke="#111" stroke-width="1.4"/>
<circle cx="209.35" cy="419.46" r="2.6" fill="#111"/>
<line x1="201.10" y1="433.10" x2="217.60" y2="433.10" stroke="#111" stroke-width="1.4"/>
<rect x="206.95" y="430.70" width="4.80" height="4.80" fill="#fff" stroke="#111" stroke-width="1.1"/>
<line x1="201.10" y1="446.74" x2="217.60" y2="446.74" stroke="#111" stroke-width="1.4"/>
<path d="M206.45,449.06L212.25,449.06L209.35,443.84Z" fill="#fff" stroke="#111" stroke-width="1.1"/>
<line x1="201.10" y1="460.38" x2="217.60" y2="460.38" stroke="#111" stroke-width="1.4"/>
<path d="M206.45,458.06L212.25,458.06L209.35,463.28Z" fill="#fff" stroke="#111" stroke-width="1.1"/>
<line x1="201.10" y1="474.02" x2="217.60" y2="474.02" stroke="#111" stroke-width="1.4"/>
<path d="M206.45,474.02L209.35,471.12L212.25,474.02L209.35,476.92Z" fill="#111"/>
<line x1="201.10" y1="487.66" x2="217.60" y2="487.66" stroke="#111" stroke-width="1.4"/>
<circle cx="209.35" cy="487.66" r="1.8" fill="#fff" stroke="#111" stroke-width="1.0"/>
<line x1="201.10" y1="501.30" x2="217.60" y2="501.30" stroke="#111" stroke-width="1.4"/>
<path d="M206.85,498.80L211.85,503.80M206.85,503.80L211.85,498.80" stroke="#111" stroke-width="1.5"/>
<text x="1.60" y="536.80" font-size="16.0" text-anchor="start" fill="#111" stroke="#111" stroke-width="0.25" font-weight="bold">F</text>
<text transform="translate(15.9,620.0) rotate(-90)" font-size="13.8" fill="#222" stroke="#222" stroke-width="0.25">MFI<tspan font-size="9.0" dx="3.6" dy="3.2">8F4 A647</tspan></text>
<line x1="41.50" y1="545.60" x2="41.50" y2="647.50" stroke="#111" stroke-width="1.3"/>
<line x1="40.90" y1="647.50" x2="167.00" y2="647.50" stroke="#111" stroke-width="1.3"/>
<line x1="39.00" y1="647.50" x2="41.50" y2="647.50" stroke="#111" stroke-width="1.0"/>
<text x="38.90" y="649.70" font-size="6.7" text-anchor="end" fill="#222" stroke="#222" stroke-width="0.25">0</text>
<line x1="39.00" y1="627.24" x2="41.50" y2="627.24" stroke="#111" stroke-width="1.0"/>
<text x="38.90" y="629.44" font-size="6.7" text-anchor="end" fill="#222" stroke="#222" stroke-width="0.25">200</text>
<line x1="39.00" y1="606.98" x2="41.50" y2="606.98" stroke="#111" stroke-width="1.0"/>
<text x="38.90" y="609.18" font-size="6.7" text-anchor="end" fill="#222" stroke="#222" stroke-width="0.25">400</text>
<line x1="39.00" y1="586.72" x2="41.50" y2="586.72" stroke="#111" stroke-width="1.0"/>
<text x="38.90" y="588.92" font-size="6.7" text-anchor="end" fill="#222" stroke="#222" stroke-width="0.25">600</text>
<line x1="39.00" y1="566.46" x2="41.50" y2="566.46" stroke="#111" stroke-width="1.0"/>
<text x="38.90" y="568.66" font-size="6.7" text-anchor="end" fill="#222" stroke="#222" stroke-width="0.25">800</text>
<line x1="39.00" y1="546.20" x2="41.50" y2="546.20" stroke="#111" stroke-width="1.0"/>
<text x="38.90" y="548.40" font-size="6.7" text-anchor="end" fill="#222" stroke="#222" stroke-width="0.25">1000</text>
<line x1="52.40" y1="647.50" x2="52.40" y2="650.00" stroke="#111" stroke-width="1.0"/>
<text x="52.40" y="659.30" font-size="6.7" text-anchor="middle" fill="#222" stroke="#222" stroke-width="0.25">0</text>
<line x1="73.40" y1="647.50" x2="73.40" y2="650.00" stroke="#111" stroke-width="1.0"/>
<text x="73.40" y="659.30" font-size="6.7" text-anchor="middle" fill="#222" stroke="#222" stroke-width="0.25">0.5</text>
<line x1="94.30" y1="647.50" x2="94.30" y2="650.00" stroke="#111" stroke-width="1.0"/>
<text x="94.30" y="659.30" font-size="6.7" text-anchor="middle" fill="#222" stroke="#222" stroke-width="0.25">1</text>
<line x1="115.20" y1="647.50" x2="115.20" y2="650.00" stroke="#111" stroke-width="1.0"/>
<text x="115.20" y="659.30" font-size="6.7" text-anchor="middle" fill="#222" stroke="#222" stroke-width="0.25">2</text>
<line x1="136.10" y1="647.50" x2="136.10" y2="650.00" stroke="#111" stroke-width="1.0"/>
<text x="136.10" y="659.30" font-size="6.7" text-anchor="middle" fill="#222" stroke="#222" stroke-width="0.25">10</text>
<line x1="157.00" y1="647.50" x2="157.00" y2="650.00" stroke="#111" stroke-width="1.0"/>
<text x="157.00" y="659.30" font-size="6.7" text-anchor="middle" fill="#222" stroke="#222" stroke-width="0.25">20</text>
<text x="101.00" y="678.60" font-size="12.0" text-anchor="middle" fill="#222" stroke="#222" stroke-width="0.25">W6/32 (&#956;g/mL)</text>
<polyline points="52.40,617.11 73.40,618.63 94.30,614.07 115.20,614.27 136.10,613.56 157.00,616.10" fill="none" stroke="#111" stroke-width="1.5" stroke-dasharray="1.6,2.1" stroke-linejoin="round"/>
<polyline points="52.40,565.24 73.40,566.97 94.30,567.47 115.20,567.47 136.10,572.03 157.00,569.50" fill="none" stroke="#111" stroke-width="1.5" stroke-linejoin="round"/>
<circle cx="52.40" cy="565.24" r="2.5" fill="#111"/>
<circle cx="73.40" cy="566.97" r="2.5" fill="#111"/>
<circle cx="94.30" cy="567.47" r="2.5" fill="#111"/>
<circle cx="115.20" cy="567.47" r="2.5" fill="#111"/>
<circle cx="136.10" cy="572.03" r="2.5" fill="#111"/>
<circle cx="157.00" cy="569.50" r="2.5" fill="#111"/>
<circle cx="52.40" cy="617.11" r="2.7" fill="#fff" stroke="#111" stroke-width="1.3"/>
<circle cx="73.40" cy="618.63" r="2.7" fill="#fff" stroke="#111" stroke-width="1.3"/>
<circle cx="94.30" cy="614.07" r="2.7" fill="#fff" stroke="#111" stroke-width="1.3"/>
<circle cx="115.20" cy="614.27" r="2.7" fill="#fff" stroke="#111" stroke-width="1.3"/>
<circle cx="136.10" cy="613.56" r="2.7" fill="#fff" stroke="#111" stroke-width="1.3"/>
<circle cx="157.00" cy="616.10" r="2.7" fill="#fff" stroke="#111" stroke-width="1.3"/>
<line x1="191.00" y1="545.00" x2="191.00" y2="647.20" stroke="#111" stroke-width="1.3"/>
<line x1="190.40" y1="647.20" x2="320.00" y2="647.20" stroke="#111" stroke-width="1.3"/>
<line x1="188.50" y1="647.20" x2="191.00" y2="647.20" stroke="#111" stroke-width="1.0"/>
<text x="188.40" y="649.40" font-size="6.7" text-anchor="end" fill="#222" stroke="#222" stroke-width="0.25">0</text>
<line x1="188.50" y1="626.88" x2="191.00" y2="626.88" stroke="#111" stroke-width="1.0"/>
<text x="188.40" y="629.08" font-size="6.7" text-anchor="end" fill="#222" stroke="#222" stroke-width="0.25">200</text>
<line x1="188.50" y1="606.56" x2="191.00" y2="606.56" stroke="#111" stroke-width="1.0"/>
<text x="188.40" y="608.76" font-size="6.7" text-anchor="end" fill="#222" stroke="#222" stroke-width="0.25">400</text>
<line x1="188.50" y1="586.24" x2="191.00" y2="586.24" stroke="#111" stroke-width="1.0"/>
<text x="188.40" y="588.44" font-size="6.7" text-anchor="end" fill="#222" stroke="#222" stroke-width="0.25">600</text>
<line x1="188.50" y1="565.92" x2="191.00" y2="565.92" stroke="#111" stroke-width="1.0"/>
<text x="188.40" y="568.12" font-size="6.7" text-anchor="end" fill="#222" stroke="#222" stroke-width="0.25">800</text>
<line x1="188.50" y1="545.60" x2="191.00" y2="545.60" stroke="#111" stroke-width="1.0"/>
<text x="188.40" y="547.80" font-size="6.7" text-anchor="end" fill="#222" stroke="#222" stroke-width="0.25">1000</text>
<line x1="203.80" y1="647.20" x2="203.80" y2="649.70" stroke="#111" stroke-width="1.0"/>
<text x="203.80" y="659.30" font-size="6.7" text-anchor="middle" fill="#222" stroke="#222" stroke-width="0.25">0</text>
<line x1="225.80" y1="647.20" x2="225.80" y2="649.70" stroke="#111" stroke-width="1.0"/>
<text x="225.80" y="659.30" font-size="6.7" text-anchor="middle" fill="#222" stroke="#222" stroke-width="0.25">1</text>
<line x1="247.70" y1="647.20" x2="247.70" y2="649.70" stroke="#111" stroke-width="1.0"/>
<text x="247.70" y="659.30" font-size="6.7" text-anchor="middle" fill="#222" stroke="#222" stroke-width="0.25">5</text>
<line x1="269.60" y1="647.20" x2="269.60" y2="649.70" stroke="#111" stroke-width="1.0"/>
<text x="269.60" y="659.30" font-size="6.7" text-anchor="middle" fill="#222" stroke="#222" stroke-width="0.25">10</text>
<line x1="291.50" y1="647.20" x2="291.50" y2="649.70" stroke="#111" stroke-width="1.0"/>
<text x="291.50" y="659.30" font-size="6.7" text-anchor="middle" fill="#222" stroke="#222" stroke-width="0.25">20</text>
<line x1="313.30" y1="647.20" x2="313.30" y2="649.70" stroke="#111" stroke-width="1.0"/>
<text x="313.30" y="659.30" font-size="6.7" text-anchor="middle" fill="#222" stroke="#222" stroke-width="0.25">50</text>
<text x="257.00" y="678.60" font-size="12.0" text-anchor="middle" fill="#222" stroke="#222" stroke-width="0.25">MA2.1 (&#956;L)</text>
<polyline points="203.80,617.74 225.80,620.28 247.70,632.47 269.60,637.04 291.50,639.07 313.30,640.29" fill="none" stroke="#111" stroke-width="1.5" stroke-dasharray="1.6,2.1" stroke-linejoin="round"/>
<polyline points="203.80,564.40 225.80,564.40 247.70,589.29 269.60,603.51 291.50,618.24 313.30,628.40" fill="none" stroke="#111" stroke-width="1.5" stroke-linejoin="round"/>
<circle cx="203.80" cy="564.40" r="2.5" fill="#111"/>
<circle cx="225.80" cy="564.40" r="2.5" fill="#111"/>
<circle cx="247.70" cy="589.29" r="2.5" fill="#111"/>
<circle cx="269.60" cy="603.51" r="2.5" fill="#111"/>
<circle cx="291.50" cy="618.24" r="2.5" fill="#111"/>
<circle cx="313.30" cy="628.40" r="2.5" fill="#111"/>
<circle cx="203.80" cy="617.74" r="2.7" fill="#fff" stroke="#111" stroke-width="1.3"/>
<circle cx="225.80" cy="620.28" r="2.7" fill="#fff" stroke="#111" stroke-width="1.3"/>
<circle cx="247.70" cy="632.47" r="2.7" fill="#fff" stroke="#111" stroke-width="1.3"/>
<circle cx="269.60" cy="637.04" r="2.7" fill="#fff" stroke="#111" stroke-width="1.3"/>
<circle cx="291.50" cy="639.07" r="2.7" fill="#fff" stroke="#111" stroke-width="1.3"/>
<circle cx="313.30" cy="640.29" r="2.7" fill="#fff" stroke="#111" stroke-width="1.3"/>
<line x1="345.00" y1="549.60" x2="345.00" y2="646.80" stroke="#111" stroke-width="1.3"/>
<line x1="344.40" y1="646.80" x2="468.00" y2="646.80" stroke="#111" stroke-width="1.3"/>
<line x1="342.50" y1="646.80" x2="345.00" y2="646.80" stroke="#111" stroke-width="1.0"/>
<text x="342.40" y="649.10" font-size="6.7" text-anchor="end" fill="#222" stroke="#222" stroke-width="0.25">0</text>
<line x1="342.50" y1="627.48" x2="345.00" y2="627.48" stroke="#111" stroke-width="1.0"/>
<text x="342.40" y="629.78" font-size="6.7" text-anchor="end" fill="#222" stroke="#222" stroke-width="0.25">200</text>
<line x1="342.50" y1="608.16" x2="345.00" y2="608.16" stroke="#111" stroke-width="1.0"/>
<text x="342.40" y="610.46" font-size="6.7" text-anchor="end" fill="#222" stroke="#222" stroke-width="0.25">400</text>
<line x1="342.50" y1="588.84" x2="345.00" y2="588.84" stroke="#111" stroke-width="1.0"/>
<text x="342.40" y="591.14" font-size="6.7" text-anchor="end" fill="#222" stroke="#222" stroke-width="0.25">600</text>
<line x1="342.50" y1="569.52" x2="345.00" y2="569.52" stroke="#111" stroke-width="1.0"/>
<text x="342.40" y="571.82" font-size="6.7" text-anchor="end" fill="#222" stroke="#222" stroke-width="0.25">800</text>
<line x1="342.50" y1="550.20" x2="345.00" y2="550.20" stroke="#111" stroke-width="1.0"/>
<text x="342.40" y="552.50" font-size="6.7" text-anchor="end" fill="#222" stroke="#222" stroke-width="0.25">1000</text>
<line x1="355.30" y1="646.80" x2="355.30" y2="649.30" stroke="#111" stroke-width="1.0"/>
<text x="355.30" y="659.20" font-size="6.9" text-anchor="middle" fill="#222" stroke="#222" stroke-width="0.25">0</text>
<line x1="381.15" y1="646.80" x2="381.15" y2="649.30" stroke="#111" stroke-width="1.0"/>
<text x="381.15" y="659.20" font-size="6.9" text-anchor="middle" fill="#222" stroke="#222" stroke-width="0.25">5</text>
<line x1="407.00" y1="646.80" x2="407.00" y2="649.30" stroke="#111" stroke-width="1.0"/>
<text x="407.00" y="659.20" font-size="6.9" text-anchor="middle" fill="#222" stroke="#222" stroke-width="0.25">10</text>
<line x1="432.85" y1="646.80" x2="432.85" y2="649.30" stroke="#111" stroke-width="1.0"/>
<text x="432.85" y="659.20" font-size="6.9" text-anchor="middle" fill="#222" stroke="#222" stroke-width="0.25">15</text>
<line x1="458.70" y1="646.80" x2="458.70" y2="649.30" stroke="#111" stroke-width="1.0"/>
<text x="458.70" y="659.20" font-size="6.9" text-anchor="middle" fill="#222" stroke="#222" stroke-width="0.25">20</text>
<text x="406.50" y="678.60" font-size="12.0" text-anchor="middle" fill="#222" stroke="#222" stroke-width="0.25">BB7.2 (&#956;g/mL)</text>
<polyline points="355.30,618.79 360.99,627.48 366.16,635.98 381.15,639.65 407.00,642.36 458.70,643.52" fill="none" stroke="#111" stroke-width="1.3" stroke-dasharray="1.5,2" stroke-linejoin="round"/>
<polyline points="355.30,622.17 360.99,624.10 366.16,635.40 381.15,639.27 407.00,641.78 458.70,642.94" fill="none" stroke="#111" stroke-width="1.3" stroke-dasharray="1.5,2" stroke-linejoin="round"/>
<polyline points="355.30,574.83 360.99,573.87 366.16,588.84 381.15,608.64 407.00,618.79 458.70,625.06" fill="none" stroke="#111" stroke-width="1.5" stroke-linejoin="round"/>
<circle cx="355.30" cy="574.83" r="2.5" fill="#111"/>
<circle cx="360.99" cy="573.87" r="2.5" fill="#111"/>
<circle cx="366.16" cy="588.84" r="2.5" fill="#111"/>
<circle cx="381.15" cy="608.64" r="2.5" fill="#111"/>
<circle cx="407.00" cy="618.79" r="2.5" fill="#111"/>
<circle cx="458.70" cy="625.06" r="2.5" fill="#111"/>
<circle cx="355.30" cy="618.79" r="2.4" fill="#fff" stroke="#111" stroke-width="1.1"/>
<circle cx="360.99" cy="627.48" r="2.4" fill="#fff" stroke="#111" stroke-width="1.1"/>
<circle cx="366.16" cy="635.98" r="2.4" fill="#fff" stroke="#111" stroke-width="1.1"/>
<circle cx="381.15" cy="639.65" r="2.4" fill="#fff" stroke="#111" stroke-width="1.1"/>
<circle cx="407.00" cy="642.36" r="2.4" fill="#fff" stroke="#111" stroke-width="1.1"/>
<circle cx="458.70" cy="643.52" r="2.4" fill="#fff" stroke="#111" stroke-width="1.1"/>
<rect x="353.10" y="619.97" width="4.40" height="4.40" fill="#fff" stroke="#111" stroke-width="1.1"/>
<rect x="358.79" y="621.90" width="4.40" height="4.40" fill="#fff" stroke="#111" stroke-width="1.1"/>
<rect x="363.96" y="633.20" width="4.40" height="4.40" fill="#fff" stroke="#111" stroke-width="1.1"/>
<rect x="378.95" y="637.07" width="4.40" height="4.40" fill="#fff" stroke="#111" stroke-width="1.1"/>
<rect x="404.80" y="639.58" width="4.40" height="4.40" fill="#fff" stroke="#111" stroke-width="1.1"/>
<rect x="456.50" y="640.74" width="4.40" height="4.40" fill="#fff" stroke="#111" stroke-width="1.1"/>
<line x1="425.20" y1="563.00" x2="437.70" y2="563.00" stroke="#111" stroke-width="1.6"/>
<circle cx="432.00" cy="563.00" r="2.3" fill="#111"/>
<line x1="425.20" y1="577.70" x2="428.00" y2="577.70" stroke="#111" stroke-width="1.3"/>
<rect x="429.30" y="575.20" width="5.00" height="5.00" fill="#fff" stroke="#111" stroke-width="1.1"/>
<line x1="434.50" y1="577.70" x2="437.70" y2="577.70" stroke="#111" stroke-width="1.3"/>
<line x1="429.60" y1="577.70" x2="434.00" y2="577.70" stroke="#111" stroke-width="0.9"/>
<line x1="425.20" y1="591.30" x2="428.00" y2="591.30" stroke="#111" stroke-width="1.3"/>
<circle cx="431.80" cy="591.30" r="2.7" fill="#fff" stroke="#111" stroke-width="1.1"/>
<line x1="434.50" y1="591.30" x2="437.70" y2="591.30" stroke="#111" stroke-width="1.3"/>
<line x1="429.40" y1="591.30" x2="434.20" y2="591.30" stroke="#111" stroke-width="0.9"/>
<text x="440.60" y="566.90" font-size="10.7" text-anchor="start" fill="#222" stroke="#222" stroke-width="0.25">T2+PR1</text>
<text x="440.60" y="581.60" font-size="10.7" text-anchor="start" fill="#222" stroke="#222" stroke-width="0.25">T2+pp65</text>
<text x="440.60" y="595.20" font-size="10.7" text-anchor="start" fill="#222" stroke="#222" stroke-width="0.25">T2</text>
</svg>
</body></html>
